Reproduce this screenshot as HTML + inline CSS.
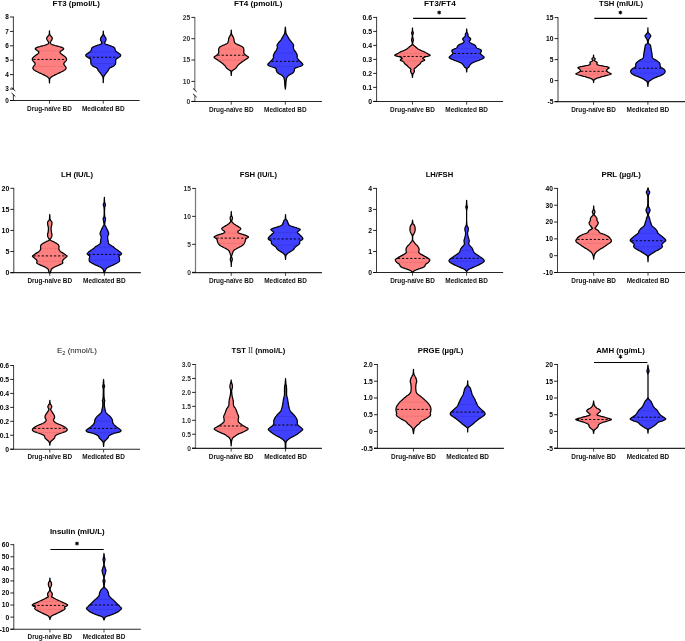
<!DOCTYPE html>
<html><head><meta charset="utf-8"><style>html,body{margin:0;padding:0;background:#fff;}svg{display:block;will-change:transform}text{font-family:"Liberation Sans",sans-serif}</style></head>
<body><svg width="685" height="641" viewBox="0 0 685 641" font-family="Liberation Sans, sans-serif"><line x1="13.4" y1="16.55" x2="13.4" y2="89.2" stroke="#333" stroke-width="0.95"/>
<line x1="13.4" y1="94.7" x2="13.4" y2="100.5" stroke="#333" stroke-width="0.95"/>
<line x1="11.5" y1="87.45" x2="15.3" y2="90.95" stroke="#000" stroke-width="0.9"/>
<line x1="11.5" y1="92.95" x2="15.3" y2="96.45" stroke="#000" stroke-width="0.9"/>
<line x1="10" y1="100.5" x2="139.6" y2="100.5" stroke="#262626" stroke-width="1.1"/>
<line x1="10" y1="17" x2="13.4" y2="17" stroke="#000" stroke-width="0.85"/>
<text x="8.9" y="19.27" font-size="6.4" font-weight="bold" text-anchor="end" fill="#000">8</text>
<line x1="10" y1="31.4" x2="13.4" y2="31.4" stroke="#000" stroke-width="0.85"/>
<text x="8.9" y="33.67" font-size="6.4" font-weight="bold" text-anchor="end" fill="#000">7</text>
<line x1="10" y1="45.8" x2="13.4" y2="45.8" stroke="#000" stroke-width="0.85"/>
<text x="8.9" y="48.07" font-size="6.4" font-weight="bold" text-anchor="end" fill="#000">6</text>
<line x1="10" y1="60.2" x2="13.4" y2="60.2" stroke="#000" stroke-width="0.85"/>
<text x="8.9" y="62.47" font-size="6.4" font-weight="bold" text-anchor="end" fill="#000">5</text>
<line x1="10" y1="74.6" x2="13.4" y2="74.6" stroke="#000" stroke-width="0.85"/>
<text x="8.9" y="76.87" font-size="6.4" font-weight="bold" text-anchor="end" fill="#000">4</text>
<line x1="10" y1="89" x2="13.4" y2="89" stroke="#000" stroke-width="0.85"/>
<text x="8.9" y="91.27" font-size="6.4" font-weight="bold" text-anchor="end" fill="#000">3</text>
<line x1="10" y1="100.5" x2="13.4" y2="100.5" stroke="#000" stroke-width="0.85"/>
<text x="8.9" y="102.77" font-size="6.4" font-weight="bold" text-anchor="end" fill="#000">0</text>
<line x1="49.46" y1="100.5" x2="49.46" y2="103.7" stroke="#222" stroke-width="0.85"/>
<line x1="103.26" y1="100.5" x2="103.26" y2="103.7" stroke="#222" stroke-width="0.85"/>
<text x="49.46" y="110.8" font-size="6.5" font-weight="bold" text-anchor="middle" fill="#111" textLength="44.7" lengthAdjust="spacingAndGlyphs">Drug-naïve BD</text>
<text x="103.26" y="110.8" font-size="6.5" font-weight="bold" text-anchor="middle" fill="#111" textLength="42.6" lengthAdjust="spacingAndGlyphs">Medicated BD</text>
<text x="76.3" y="6.1" font-size="7.9" font-weight="bold" text-anchor="middle" fill="#000" textLength="47.4" lengthAdjust="spacingAndGlyphs">FT3 (pmol/L)</text>
<path d="M49.5 30.8 49.5 31.4 49.5 32.3 49.6 33.2 49.7 34 49.8 34.5 50 34.8 50.2 35.1 50.5 35.5 50.8 35.9 51.1 36.2 51.5 36.6 51.8 37 52 37.3 52.1 37.7 52.2 38.1 52.3 38.5 52.2 38.8 52.1 39.2 51.9 39.6 51.8 40 51.5 40.3 51.3 40.7 51 41.1 50.8 41.5 50.6 41.8 50.4 42.1 50.3 42.4 50.3 42.8 50.3 43.1 50.5 43.4 50.8 43.7 51.2 44 51.7 44.3 52.3 44.6 53.1 44.9 54 45.2 55.1 45.5 56.4 45.8 57.7 46.1 58.9 46.5 60.1 46.8 61.2 47.2 62.2 47.6 62.9 48 63.4 48.2 63.6 48.5 63.7 48.7 63.6 49 63.5 49.2 63.2 49.5 62.9 49.8 62.4 50.1 61.9 50.5 61.2 50.9 60.5 51.3 60.1 51.7 60 52.2 60.1 52.6 60.4 53 60.7 53.4 61.3 53.9 62 54.4 62.7 54.9 63.4 55.4 64.1 55.9 64.7 56.4 65.3 56.9 65.7 57.4 66.1 57.9 66.4 58.4 66.6 59 66.6 59.4 66.5 59.9 66.3 60.3 66 60.7 65.7 61.1 65.3 61.6 64.9 62 64.4 62.5 64.1 62.9 63.9 63.3 63.9 63.7 63.8 64 63.9 64.4 64.1 64.8 64.5 65.2 64.8 65.7 65.1 66.1 65.4 66.6 65.8 67 66 67.5 66.1 67.9 66.1 68.4 65.9 68.8 65.5 69.3 65.1 69.7 64.6 70.1 63.9 70.6 63.2 71 62.4 71.4 61.6 71.8 60.8 72.2 59.9 72.7 58.9 73.1 58 73.5 57 74 56.1 74.4 55.1 74.9 54.2 75.4 53.3 75.8 52.5 76.3 51.8 76.7 51.2 77.1 50.8 77.5 50.4 77.8 50.2 78.2 49.9 78.5 49.8 78.7 49.7 78.9 49.7 79.4 49.6 80.2 49.5 81.2 49.5 82.2 49.5 82.9 49.5 82.9 49.4 82.2 49.4 81.2 49.3 80.2 49.3 79.4 49.2 78.9 49.1 78.7 49 78.5 48.8 78.2 48.5 77.8 48.1 77.5 47.7 77.1 47.2 76.7 46.5 76.3 45.6 75.8 44.7 75.4 43.8 74.9 42.8 74.4 41.9 74 40.9 73.5 40 73.1 39.1 72.7 38.2 72.2 37.3 71.8 36.5 71.4 35.7 71 35 70.6 34.3 70.1 33.8 69.7 33.4 69.3 33.1 68.8 32.9 68.4 32.8 67.9 32.9 67.5 33.2 67 33.5 66.6 33.8 66.1 34.1 65.7 34.5 65.2 34.8 64.8 35 64.4 35.1 64 35.1 63.7 35 63.3 34.8 62.9 34.5 62.5 34 62 33.6 61.6 33.2 61.1 32.9 60.7 32.6 60.3 32.4 59.9 32.3 59.4 32.4 59 32.5 58.4 32.8 57.9 33.2 57.4 33.7 56.9 34.2 56.4 34.9 55.9 35.5 55.4 36.2 54.9 36.9 54.4 37.6 53.9 38.2 53.4 38.5 53 38.8 52.6 38.9 52.2 38.8 51.7 38.4 51.3 37.7 50.9 37 50.5 36.5 50.1 36.1 49.8 35.7 49.5 35.4 49.2 35.3 49 35.3 48.7 35.3 48.5 35.5 48.2 36 48 36.7 47.6 37.7 47.2 38.8 46.8 40 46.5 41.2 46.1 42.5 45.8 43.9 45.5 45 45.2 45.9 44.9 46.6 44.6 47.2 44.3 47.8 44 48.2 43.7 48.4 43.4 48.6 43.1 48.7 42.8 48.6 42.4 48.5 42.1 48.4 41.8 48.2 41.5 47.9 41.1 47.7 40.7 47.4 40.3 47.2 40 47 39.6 46.8 39.2 46.7 38.8 46.7 38.5 46.7 38.1 46.8 37.7 47 37.3 47.2 37 47.4 36.6 47.8 36.2 48.2 35.9 48.5 35.5 48.7 35.1 48.9 34.8 49.1 34.5 49.3 34 49.4 33.2 49.4 32.3 49.4 31.4 49.5 30.8Z" fill="#FF8080" stroke="#000" stroke-width="1.25" stroke-linejoin="round"/>
<line x1="38.45" y1="50.75" x2="60.47" y2="50.75" stroke="#DA6868" stroke-width="0.6" stroke-dasharray="3 0.8"/>
<line x1="34.18" y1="66.42" x2="64.74" y2="66.42" stroke="#DA6868" stroke-width="0.6" stroke-dasharray="3 0.8"/>
<line x1="33.19" y1="59.43" x2="65.72" y2="59.43" stroke="#000" stroke-width="0.95" stroke-dasharray="2.3 1.8"/>
<path d="M103.3 31.2 103.3 31.7 103.3 32.5 103.4 33.3 103.5 34 103.6 34.5 103.9 34.9 104.1 35.4 104.4 35.8 104.6 36.2 104.9 36.6 105.2 37.1 105.5 37.5 105.7 37.9 105.9 38.3 106 38.7 106.1 39.2 106 39.6 105.9 40.1 105.7 40.5 105.6 41 105.3 41.4 105 41.9 104.8 42.4 104.7 42.8 104.7 43.1 104.8 43.4 105.1 43.7 105.5 44 105.9 44.2 106.5 44.5 107.2 44.7 108 45 108.8 45.2 109.7 45.5 110.6 45.8 111.4 46.2 112.2 46.5 113 46.8 113.6 47.1 114.1 47.5 114.5 47.7 114.7 48 114.8 48.2 114.9 48.5 115 48.8 115 49.1 115.1 49.4 115.1 49.7 115.3 50.1 115.4 50.4 115.6 50.8 115.9 51.1 116.3 51.5 116.9 51.9 117.4 52.4 117.9 52.7 118.5 53.1 119 53.5 119.5 53.8 119.9 54.1 120.3 54.5 120.5 54.8 120.7 55.1 120.7 55.4 120.6 55.8 120.3 56.2 119.9 56.6 119.4 56.9 118.9 57.3 118.2 57.7 117.5 58.1 116.9 58.4 116.5 58.8 116.2 59.1 115.9 59.5 115.7 59.9 115.7 60.4 115.7 60.9 115.7 61.4 115.7 61.9 115.7 62.4 115.7 63 115.6 63.5 115.5 63.9 115.3 64.3 115.1 64.6 114.8 64.9 114.5 65.2 114.3 65.5 114 65.8 113.7 66 113.4 66.2 113.1 66.4 112.8 66.6 112.4 66.7 112 66.9 111.6 67.1 111.1 67.3 110.6 67.5 110.2 67.7 109.9 67.9 109.7 68 109.5 68.2 109.2 68.5 109 68.9 108.9 69.3 108.6 69.8 108.3 70.3 107.9 70.9 107.4 71.6 106.9 72.2 106.4 72.9 105.9 73.5 105.4 74.2 104.9 74.8 104.6 75.4 104.2 75.9 104 76.3 103.7 76.8 103.6 77.5 103.4 78.7 103.3 80.2 103.3 81.6 103.3 82.6 103.3 82.6 103.2 81.6 103.2 80.2 103.1 78.7 103 77.5 102.8 76.8 102.6 76.3 102.3 75.9 102 75.4 101.6 74.8 101.1 74.2 100.6 73.5 100.2 72.9 99.7 72.2 99.1 71.6 98.6 70.9 98.2 70.3 97.9 69.8 97.7 69.3 97.5 68.9 97.3 68.5 97 68.2 96.8 68 96.6 67.9 96.3 67.7 95.9 67.5 95.4 67.3 94.9 67.1 94.5 66.9 94.1 66.7 93.7 66.6 93.4 66.4 93.1 66.2 92.8 66 92.5 65.8 92.2 65.5 92 65.2 91.7 64.9 91.4 64.6 91.2 64.3 91 63.9 90.9 63.5 90.8 63 90.8 62.4 90.8 61.9 90.8 61.4 90.8 60.9 90.9 60.4 90.8 59.9 90.6 59.5 90.3 59.1 90 58.8 89.6 58.4 89 58.1 88.3 57.7 87.7 57.3 87.1 56.9 86.6 56.6 86.2 56.2 85.9 55.8 85.8 55.4 85.8 55.1 86 54.8 86.3 54.5 86.6 54.1 87 53.8 87.5 53.5 88.1 53.1 88.6 52.7 89.1 52.4 89.7 51.9 90.2 51.5 90.6 51.1 90.9 50.8 91.1 50.4 91.3 50.1 91.4 49.7 91.5 49.4 91.5 49.1 91.5 48.8 91.6 48.5 91.7 48.2 91.8 48 92 47.7 92.4 47.5 92.9 47.1 93.6 46.8 94.3 46.5 95.1 46.2 95.9 45.8 96.8 45.5 97.7 45.2 98.6 45 99.3 44.7 100 44.5 100.6 44.2 101.1 44 101.4 43.7 101.7 43.4 101.8 43.1 101.9 42.8 101.7 42.4 101.5 41.9 101.2 41.4 101 41 100.8 40.5 100.6 40.1 100.5 39.6 100.5 39.2 100.5 38.7 100.7 38.3 100.9 37.9 101.1 37.5 101.3 37.1 101.6 36.6 101.9 36.2 102.2 35.8 102.4 35.4 102.7 34.9 102.9 34.5 103.1 34 103.2 33.3 103.2 32.5 103.2 31.7 103.3 31.2Z" fill="#4040FF" stroke="#000" stroke-width="1.25" stroke-linejoin="round"/>
<line x1="89.82" y1="52.24" x2="116.7" y2="52.24" stroke="#3030CC" stroke-width="0.6" stroke-dasharray="3 0.8"/>
<line x1="91.57" y1="63.52" x2="114.95" y2="63.52" stroke="#3030CC" stroke-width="0.6" stroke-dasharray="3 0.8"/>
<line x1="88.56" y1="57.23" x2="117.96" y2="57.23" stroke="#000" stroke-width="0.95" stroke-dasharray="2.3 1.8"/>
<line x1="194.8" y1="16.95" x2="194.8" y2="90.1" stroke="#7a7a7a" stroke-width="1.25"/>
<line x1="194.8" y1="95.5" x2="194.8" y2="101.5" stroke="#7a7a7a" stroke-width="1.25"/>
<line x1="192.9" y1="88.35" x2="196.7" y2="91.85" stroke="#000" stroke-width="0.9"/>
<line x1="192.9" y1="93.75" x2="196.7" y2="97.25" stroke="#000" stroke-width="0.9"/>
<line x1="191.4" y1="101.5" x2="321.9" y2="101.5" stroke="#262626" stroke-width="1.1"/>
<line x1="191.4" y1="17.4" x2="194.8" y2="17.4" stroke="#000" stroke-width="0.85"/>
<text x="190.3" y="19.78" font-size="6.7" font-weight="bold" text-anchor="end" fill="#333">25</text>
<line x1="191.4" y1="38.7" x2="194.8" y2="38.7" stroke="#000" stroke-width="0.85"/>
<text x="190.3" y="41.08" font-size="6.7" font-weight="bold" text-anchor="end" fill="#333">20</text>
<line x1="191.4" y1="60" x2="194.8" y2="60" stroke="#000" stroke-width="0.85"/>
<text x="190.3" y="62.38" font-size="6.7" font-weight="bold" text-anchor="end" fill="#333">15</text>
<line x1="191.4" y1="81.4" x2="194.8" y2="81.4" stroke="#000" stroke-width="0.85"/>
<text x="190.3" y="83.78" font-size="6.7" font-weight="bold" text-anchor="end" fill="#333">10</text>
<line x1="191.4" y1="101.4" x2="194.8" y2="101.4" stroke="#000" stroke-width="0.85"/>
<text x="190.3" y="103.78" font-size="6.7" font-weight="bold" text-anchor="end" fill="#333">0</text>
<line x1="231.26" y1="101.5" x2="231.26" y2="104.7" stroke="#222" stroke-width="0.85"/>
<line x1="285.34" y1="101.5" x2="285.34" y2="104.7" stroke="#222" stroke-width="0.85"/>
<text x="231.26" y="112.2" font-size="6.5" font-weight="bold" text-anchor="middle" fill="#111" textLength="44.7" lengthAdjust="spacingAndGlyphs">Drug-naïve BD</text>
<text x="285.34" y="112.2" font-size="6.5" font-weight="bold" text-anchor="middle" fill="#111" textLength="42.6" lengthAdjust="spacingAndGlyphs">Medicated BD</text>
<text x="258.2" y="6.4" font-size="7.9" font-weight="bold" text-anchor="middle" fill="#000" textLength="48.4" lengthAdjust="spacingAndGlyphs">FT4 (pmol/L)</text>
<path d="M231.3 30.2 231.3 30.8 231.3 31.7 231.4 32.7 231.5 33.5 231.6 34 231.7 34.3 231.8 34.6 232 35 232.2 35.3 232.4 35.7 232.7 36.1 233 36.5 233.2 36.9 233.4 37.4 233.6 37.9 233.8 38.5 233.9 39.1 234 39.7 234 40.4 234.2 41 234.3 41.5 234.4 42 234.6 42.5 235 43 235.4 43.4 236.1 43.8 236.7 44.1 237.4 44.5 238.2 44.8 239 45.1 239.7 45.4 240.4 45.8 241.1 46.1 241.7 46.4 242.3 46.8 242.7 47.1 243.1 47.5 243.4 47.9 243.6 48.3 243.7 48.7 243.8 49.2 243.9 49.6 243.9 50 243.9 50.4 243.9 50.9 243.8 51.4 243.7 51.9 243.7 52.4 243.9 52.9 244.2 53.5 244.5 54 244.9 54.4 245.4 54.9 245.9 55.2 246.4 55.6 246.9 55.9 247.4 56.3 247.9 56.5 248.2 56.8 248.4 57.1 248.4 57.4 248.2 57.8 247.8 58.1 247.4 58.4 246.9 58.8 246.3 59.1 245.6 59.5 244.9 59.9 244.2 60.4 243.4 60.9 242.7 61.4 241.9 61.9 241.3 62.4 240.6 62.9 240 63.4 239.4 63.9 238.9 64.4 238.4 64.9 237.9 65.4 237.4 65.9 237.1 66.3 236.9 66.7 236.7 67 236.4 67.4 236.1 67.8 235.8 68.2 235.4 68.5 235 68.9 234.4 69.3 233.8 69.7 233.2 70.1 232.8 70.4 232.4 70.6 232.1 70.7 231.9 71 231.7 71.4 231.5 72.3 231.4 73.5 231.3 74.6 231.3 75.4 231.3 75.4 231.2 74.6 231.1 73.5 231 72.3 230.9 71.4 230.7 71 230.4 70.7 230.1 70.6 229.8 70.4 229.3 70.1 228.7 69.7 228.1 69.3 227.6 68.9 227.1 68.5 226.7 68.2 226.4 67.8 226.1 67.4 225.8 67 225.6 66.7 225.4 66.3 225.1 65.9 224.7 65.4 224.2 64.9 223.6 64.4 223.1 63.9 222.5 63.4 221.9 62.9 221.3 62.4 220.6 61.9 219.9 61.4 219.1 60.9 218.3 60.4 217.6 59.9 216.9 59.5 216.2 59.1 215.6 58.8 215.1 58.4 214.7 58.1 214.3 57.8 214.1 57.4 214.1 57.1 214.3 56.8 214.7 56.5 215.1 56.3 215.6 55.9 216.1 55.6 216.6 55.2 217.1 54.9 217.6 54.4 218 54 218.3 53.5 218.6 52.9 218.8 52.4 218.8 51.9 218.7 51.4 218.6 50.9 218.6 50.4 218.6 50 218.6 49.6 218.7 49.2 218.8 48.7 218.9 48.3 219.2 47.9 219.4 47.5 219.8 47.1 220.2 46.8 220.8 46.4 221.4 46.1 222.1 45.8 222.8 45.4 223.6 45.1 224.3 44.8 225.1 44.5 225.8 44.1 226.5 43.8 227.1 43.4 227.6 43 227.9 42.5 228.1 42 228.2 41.5 228.4 41 228.5 40.4 228.6 39.7 228.6 39.1 228.8 38.5 228.9 37.9 229.1 37.4 229.3 36.9 229.6 36.5 229.8 36.1 230.1 35.7 230.3 35.3 230.6 35 230.7 34.6 230.9 34.3 231 34 231.1 33.5 231.1 32.7 231.2 31.7 231.2 30.8 231.3 30.2Z" fill="#FF8080" stroke="#000" stroke-width="1.25" stroke-linejoin="round"/>
<line x1="219.37" y1="49.15" x2="243.15" y2="49.15" stroke="#DA6868" stroke-width="0.6" stroke-dasharray="3 0.8"/>
<line x1="218.29" y1="60.12" x2="244.23" y2="60.12" stroke="#DA6868" stroke-width="0.6" stroke-dasharray="3 0.8"/>
<line x1="217.51" y1="55.23" x2="245.01" y2="55.23" stroke="#000" stroke-width="0.95" stroke-dasharray="2.3 1.8"/>
<path d="M285.3 27.2 285.4 27.9 285.5 28.9 285.6 30 285.7 31 285.8 31.7 285.9 32.4 286 32.9 286.1 33.5 286.3 33.9 286.4 34.3 286.6 34.7 286.8 35 287 35.3 287.2 35.6 287.4 35.9 287.6 36.4 288 37 288.4 37.7 288.9 38.5 289.3 39.3 289.9 40 290.5 40.8 291.1 41.5 291.6 42.2 292.1 42.9 292.6 43.4 293 44 293.3 44.5 293.5 44.9 293.6 45.2 293.6 45.5 293.7 45.8 293.6 46.1 293.5 46.4 293.3 46.7 293.3 47.2 293.4 47.7 293.5 48.4 293.8 49.1 294 49.8 294.4 50.4 294.9 51 295.3 51.5 295.7 52.1 296.1 52.7 296.4 53.3 296.7 53.9 296.9 54.4 297.1 54.8 297.2 55.2 297.3 55.5 297.4 55.8 297.3 56.1 297.3 56.4 297.2 56.7 297.1 56.9 297.1 57.2 297.1 57.5 297.2 57.8 297.4 58.2 297.7 58.7 298.3 59.4 298.9 60.1 299.4 60.8 300 61.3 300.5 61.8 301 62.2 301.5 62.7 302 63.2 302.5 63.7 302.8 64.2 302.9 64.7 302.5 65.2 301.9 65.6 301.2 66 300.3 66.4 299.4 66.7 298.3 67 297.2 67.3 296.3 67.6 295.7 67.9 295.2 68.2 294.8 68.5 294.6 68.9 294.4 69.2 294.4 69.7 294.4 70.1 294.3 70.5 294.2 71 294 71.5 293.7 71.9 293.4 72.3 293.1 72.7 292.7 73 292.2 73.4 291.7 73.7 291.1 74 290.5 74.4 289.8 74.7 289.2 75.1 288.6 75.6 288 76.1 287.5 76.6 287.1 77.1 286.9 77.5 286.7 77.9 286.6 78.4 286.5 79 286.3 79.6 286.2 80.3 286.1 81.1 286 82 285.9 83 285.9 84 285.8 85.1 285.7 86 285.6 86.9 285.5 87.8 285.4 88.6 285.3 89.1 285.3 89.1 285.3 88.6 285.2 87.8 285 86.9 284.9 86 284.9 85.1 284.8 84 284.7 83 284.7 82 284.6 81.1 284.5 80.3 284.3 79.6 284.2 79 284.1 78.4 284 77.9 283.8 77.5 283.5 77.1 283.1 76.6 282.6 76.1 282.1 75.6 281.5 75.1 280.9 74.7 280.2 74.4 279.5 74 278.9 73.7 278.4 73.4 278 73 277.6 72.7 277.2 72.3 277 71.9 276.7 71.5 276.5 71 276.3 70.5 276.3 70.1 276.3 69.7 276.3 69.2 276.1 68.9 275.8 68.5 275.5 68.2 275 67.9 274.3 67.6 273.4 67.3 272.4 67 271.3 66.7 270.3 66.4 269.5 66 268.7 65.6 268.1 65.2 267.8 64.7 267.9 64.2 268.2 63.7 268.7 63.2 269.2 62.7 269.6 62.2 270.2 61.8 270.7 61.3 271.2 60.8 271.8 60.1 272.4 59.4 272.9 58.7 273.3 58.2 273.5 57.8 273.6 57.5 273.6 57.2 273.5 56.9 273.5 56.7 273.4 56.4 273.3 56.1 273.3 55.8 273.4 55.5 273.5 55.2 273.6 54.8 273.8 54.4 274 53.9 274.3 53.3 274.6 52.7 274.9 52.1 275.3 51.5 275.8 51 276.3 50.4 276.6 49.8 276.9 49.1 277.1 48.4 277.3 47.7 277.4 47.2 277.3 46.7 277.2 46.4 277.1 46.1 277 45.8 277 45.5 277.1 45.2 277.2 44.9 277.4 44.5 277.7 44 278.1 43.4 278.5 42.9 279 42.2 279.6 41.5 280.2 40.8 280.8 40 281.3 39.3 281.8 38.5 282.3 37.7 282.7 37 283 36.4 283.3 35.9 283.5 35.6 283.7 35.3 283.9 35 284.1 34.7 284.2 34.3 284.4 33.9 284.6 33.5 284.7 32.9 284.8 32.4 284.9 31.7 285 31 285.1 30 285.2 28.9 285.3 27.9 285.3 27.2Z" fill="#4040FF" stroke="#000" stroke-width="1.25" stroke-linejoin="round"/>
<line x1="274.97" y1="53.24" x2="295.7" y2="53.24" stroke="#3030CC" stroke-width="0.6" stroke-dasharray="3 0.8"/>
<line x1="271.04" y1="66.38" x2="299.64" y2="66.38" stroke="#3030CC" stroke-width="0.6" stroke-dasharray="3 0.8"/>
<line x1="271.6" y1="61.33" x2="299.07" y2="61.33" stroke="#000" stroke-width="0.95" stroke-dasharray="2.3 1.8"/>
<line x1="376.6" y1="16.95" x2="376.6" y2="101.5" stroke="#333" stroke-width="0.95"/>
<line x1="373.2" y1="101.5" x2="503.1" y2="101.5" stroke="#262626" stroke-width="1.1"/>
<line x1="373.2" y1="17.4" x2="376.6" y2="17.4" stroke="#000" stroke-width="0.85"/>
<text x="372.1" y="19.85" font-size="6.9" font-weight="bold" text-anchor="end" fill="#000">0.6</text>
<line x1="373.2" y1="31.4" x2="376.6" y2="31.4" stroke="#000" stroke-width="0.85"/>
<text x="372.1" y="33.85" font-size="6.9" font-weight="bold" text-anchor="end" fill="#000">0.5</text>
<line x1="373.2" y1="45.4" x2="376.6" y2="45.4" stroke="#000" stroke-width="0.85"/>
<text x="372.1" y="47.85" font-size="6.9" font-weight="bold" text-anchor="end" fill="#000">0.4</text>
<line x1="373.2" y1="59.4" x2="376.6" y2="59.4" stroke="#000" stroke-width="0.85"/>
<text x="372.1" y="61.85" font-size="6.9" font-weight="bold" text-anchor="end" fill="#000">0.3</text>
<line x1="373.2" y1="73.4" x2="376.6" y2="73.4" stroke="#000" stroke-width="0.85"/>
<text x="372.1" y="75.85" font-size="6.9" font-weight="bold" text-anchor="end" fill="#000">0.2</text>
<line x1="373.2" y1="87.4" x2="376.6" y2="87.4" stroke="#000" stroke-width="0.85"/>
<text x="372.1" y="89.85" font-size="6.9" font-weight="bold" text-anchor="end" fill="#000">0.1</text>
<line x1="373.2" y1="101.4" x2="376.6" y2="101.4" stroke="#000" stroke-width="0.85"/>
<text x="372.1" y="103.85" font-size="6.9" font-weight="bold" text-anchor="end" fill="#000">0</text>
<line x1="412.46" y1="101.5" x2="412.46" y2="104.7" stroke="#222" stroke-width="0.85"/>
<line x1="466.66" y1="101.5" x2="466.66" y2="104.7" stroke="#222" stroke-width="0.85"/>
<text x="412.46" y="112.2" font-size="6.5" font-weight="bold" text-anchor="middle" fill="#111" textLength="44.7" lengthAdjust="spacingAndGlyphs">Drug-naïve BD</text>
<text x="466.66" y="112.2" font-size="6.5" font-weight="bold" text-anchor="middle" fill="#111" textLength="42.6" lengthAdjust="spacingAndGlyphs">Medicated BD</text>
<text x="439.9" y="6.2" font-size="7.9" font-weight="bold" text-anchor="middle" fill="#000" textLength="31.8" lengthAdjust="spacingAndGlyphs">FT3/FT4</text>
<line x1="413.1" y1="18.35" x2="465.7" y2="18.35" stroke="#000" stroke-width="1.1"/>
<path d="M439.2 10.95L439.2 14.05M440.54 11.72L437.86 13.28M440.54 13.28L437.86 11.72" stroke="#000" stroke-width="1.05" stroke-linecap="round"/>
<path d="M412.5 28 412.5 28.7 412.5 29.7 412.6 30.7 412.7 31.5 412.8 31.9 412.9 32.1 413.1 32.3 413.2 32.5 413.2 32.7 413.3 33 413.3 33.2 413.3 33.5 413.2 33.8 413 34.1 412.9 34.4 412.8 34.8 412.7 35.3 412.6 35.8 412.6 36.4 412.7 37 412.7 37.5 412.9 37.9 413 38.4 413.2 38.8 413.2 39.1 413.3 39.5 413.4 39.8 413.4 40.2 413.3 40.5 413.2 40.8 413.1 41.1 413 41.5 412.9 41.9 412.8 42.5 412.7 43 412.7 43.5 412.7 43.8 412.7 44.1 412.8 44.4 413 44.7 413.2 45 413.6 45.3 414 45.6 414.4 45.9 414.8 46.3 415.2 46.6 415.7 47 416.2 47.4 416.6 47.8 417 48.1 417.4 48.5 418 48.9 418.6 49.3 419.3 49.6 420.1 50 420.9 50.4 421.7 50.8 422.7 51.2 423.6 51.5 424.5 51.9 425.1 52.3 425.7 52.6 426.2 53 426.8 53.3 427.4 53.6 428 53.9 428.7 54.2 429.2 54.5 429.6 54.7 429.9 55 430.1 55.2 430.1 55.4 429.6 55.6 428.9 55.9 428.1 56.1 427.4 56.3 426.6 56.5 425.9 56.7 425.1 57 424.5 57.2 423.9 57.5 423.3 57.8 422.9 58.1 422.7 58.4 422.8 58.6 423.3 58.8 423.8 59.1 424.2 59.3 424.4 59.6 424.5 59.9 424.6 60.2 424.5 60.5 424 60.7 423.4 60.9 422.6 61.1 422.1 61.3 421.7 61.6 421.3 61.9 421.1 62.2 420.9 62.5 420.7 62.8 420.6 63.1 420.5 63.4 420.3 63.7 419.8 64.1 419.2 64.6 418.5 65 418 65.5 417.5 66 417 66.4 416.6 66.9 416.2 67.3 415.7 67.6 415.3 67.9 415 68.2 414.7 68.5 414.4 68.8 414.2 69 414.1 69.3 414.1 69.6 414.1 70 414.2 70.5 414.3 70.9 414.4 71.4 414.2 71.9 414 72.3 413.7 72.8 413.5 73.2 413.3 73.5 413.1 73.7 413 74 412.9 74.4 412.7 75.1 412.6 76 412.5 76.8 412.5 77.4 412.5 77.4 412.4 76.8 412.3 76 412.2 75.1 412.1 74.4 411.9 74 411.8 73.7 411.6 73.5 411.5 73.2 411.2 72.8 411 72.3 410.7 71.9 410.6 71.4 410.6 70.9 410.7 70.5 410.8 70 410.9 69.6 410.8 69.3 410.7 69 410.5 68.8 410.3 68.5 410 68.2 409.6 67.9 409.2 67.6 408.8 67.3 408.3 66.9 407.9 66.4 407.5 66 407 65.5 406.4 65 405.7 64.6 405.1 64.1 404.7 63.7 404.4 63.4 404.3 63.1 404.2 62.8 404.1 62.5 403.8 62.2 403.6 61.9 403.3 61.6 402.9 61.3 402.3 61.1 401.6 60.9 400.9 60.7 400.5 60.5 400.3 60.2 400.4 59.9 400.5 59.6 400.8 59.3 401.1 59.1 401.6 58.8 402.1 58.6 402.3 58.4 402.1 58.1 401.6 57.8 401.1 57.5 400.5 57.2 399.8 57 399.1 56.7 398.3 56.5 397.6 56.3 396.8 56.1 396 55.9 395.3 55.6 394.9 55.4 394.8 55.2 395 55 395.3 54.7 395.8 54.5 396.3 54.2 396.9 53.9 397.5 53.6 398.2 53.3 398.7 53 399.2 52.6 399.8 52.3 400.5 51.9 401.3 51.5 402.2 51.2 403.2 50.8 404.1 50.4 404.9 50 405.6 49.6 406.3 49.3 407 48.9 407.5 48.5 407.9 48.1 408.3 47.8 408.8 47.4 409.2 47 409.7 46.6 410.1 46.3 410.6 45.9 411 45.6 411.4 45.3 411.7 45 412 44.7 412.1 44.4 412.2 44.1 412.3 43.8 412.3 43.5 412.2 43 412.2 42.5 412.1 41.9 412 41.5 411.9 41.1 411.7 40.8 411.6 40.5 411.6 40.2 411.6 39.8 411.6 39.5 411.7 39.1 411.8 38.8 411.9 38.4 412 37.9 412.2 37.5 412.3 37 412.3 36.4 412.3 35.8 412.2 35.3 412.2 34.8 412 34.4 411.9 34.1 411.8 33.8 411.7 33.5 411.6 33.2 411.6 33 411.7 32.7 411.8 32.5 411.9 32.3 412 32.1 412.1 31.9 412.3 31.5 412.3 30.7 412.4 29.7 412.4 28.7 412.5 28Z" fill="#FF8080" stroke="#000" stroke-width="1.25" stroke-linejoin="round"/>
<line x1="398.86" y1="53.44" x2="426.06" y2="53.44" stroke="#DA6868" stroke-width="0.6" stroke-dasharray="3 0.8"/>
<line x1="402.98" y1="61.12" x2="421.94" y2="61.12" stroke="#DA6868" stroke-width="0.6" stroke-dasharray="3 0.8"/>
<line x1="399.2" y1="56.43" x2="425.72" y2="56.43" stroke="#000" stroke-width="0.95" stroke-dasharray="2.3 1.8"/>
<path d="M466.7 29 466.7 29.6 466.8 30.4 466.8 31.4 467 32.1 467.1 32.6 467.3 32.9 467.5 33.2 467.7 33.5 467.8 33.8 467.9 34 468 34.2 468.1 34.5 468.1 34.7 468 35 468 35.2 468 35.5 468 35.7 468 36 468.1 36.2 468.3 36.5 468.5 36.8 468.9 37.1 469.3 37.4 469.7 37.7 470 38 470.3 38.3 470.5 38.6 470.7 39 470.6 39.3 470.5 39.6 470.3 39.9 470.2 40.2 469.9 40.5 469.7 40.7 469.4 41 469.3 41.3 469.2 41.5 469.2 41.7 469.3 41.9 469.5 42.1 469.6 42.3 469.8 42.5 470.1 42.7 470.5 43 471 43.2 471.6 43.6 472.3 43.9 472.9 44.2 473.5 44.4 474 44.6 474.5 44.9 474.9 45.2 475.3 45.5 475.5 45.8 475.7 46.1 475.9 46.5 476.1 46.8 476.1 47.1 476.2 47.4 476.4 47.7 476.8 48 477.3 48.3 477.9 48.5 478.4 48.7 479.1 49 479.8 49.3 480.4 49.6 480.9 49.9 481.2 50.2 481.4 50.5 481.4 50.8 481.4 51.1 481.3 51.5 481.1 51.8 480.9 52.1 480.7 52.4 480.6 52.8 480.5 53.1 480.4 53.4 480.4 53.7 480.6 54 481 54.3 481.3 54.6 481.7 54.9 482.1 55.3 482.6 55.7 483.1 56.1 483.4 56.4 483.7 56.7 483.9 57 484.1 57.2 484.1 57.4 484 57.7 483.9 57.9 483.6 58.1 483.1 58.4 482.5 58.8 481.7 59.1 480.8 59.5 479.9 59.9 479 60.3 478 60.7 476.9 61 475.9 61.4 475 61.8 474.1 62.2 473.2 62.5 472.4 62.9 471.8 63.3 471.3 63.7 470.8 64 470.5 64.4 470.1 64.8 469.9 65.2 469.7 65.5 469.5 65.9 469.2 66.3 469 66.7 468.7 67.1 468.5 67.4 468.1 67.6 467.8 67.8 467.4 68 467.2 68.4 467 69.2 466.8 70.2 466.7 71.2 466.7 71.9 466.7 71.9 466.6 71.2 466.5 70.2 466.4 69.2 466.2 68.4 465.9 68 465.5 67.8 465.2 67.6 464.9 67.4 464.6 67.1 464.3 66.7 464.1 66.3 463.9 65.9 463.6 65.5 463.4 65.2 463.2 64.8 462.9 64.4 462.5 64 462 63.7 461.5 63.3 460.9 62.9 460.1 62.5 459.2 62.2 458.3 61.8 457.4 61.4 456.4 61 455.4 60.7 454.3 60.3 453.4 59.9 452.5 59.5 451.6 59.1 450.8 58.8 450.2 58.4 449.7 58.1 449.4 57.9 449.3 57.7 449.2 57.4 449.2 57.2 449.4 57 449.6 56.7 449.9 56.4 450.3 56.1 450.7 55.7 451.2 55.3 451.6 54.9 452 54.6 452.4 54.3 452.7 54 452.9 53.7 452.9 53.4 452.9 53.1 452.7 52.8 452.6 52.4 452.4 52.1 452.2 51.8 452 51.5 451.9 51.1 451.9 50.8 451.9 50.5 452.1 50.2 452.4 49.9 452.9 49.6 453.5 49.3 454.2 49 454.9 48.7 455.5 48.5 456 48.3 456.5 48 456.9 47.7 457.1 47.4 457.2 47.1 457.3 46.8 457.4 46.5 457.6 46.1 457.8 45.8 458 45.5 458.4 45.2 458.8 44.9 459.3 44.6 459.8 44.4 460.4 44.2 461 43.9 461.7 43.6 462.3 43.2 462.9 43 463.2 42.7 463.5 42.5 463.7 42.3 463.9 42.1 464 41.9 464.1 41.7 464.1 41.5 464.1 41.3 463.9 41 463.7 40.7 463.4 40.5 463.2 40.2 463 39.9 462.8 39.6 462.7 39.3 462.7 39 462.8 38.6 463 38.3 463.4 38 463.7 37.7 464 37.4 464.4 37.1 464.8 36.8 465.1 36.5 465.2 36.2 465.3 36 465.3 35.7 465.4 35.5 465.4 35.2 465.3 35 465.3 34.7 465.3 34.5 465.3 34.2 465.4 34 465.5 33.8 465.7 33.5 465.8 33.2 466 32.9 466.2 32.6 466.4 32.1 466.5 31.4 466.6 30.4 466.6 29.6 466.7 29Z" fill="#4040FF" stroke="#000" stroke-width="1.25" stroke-linejoin="round"/>
<line x1="456.15" y1="48.45" x2="477.17" y2="48.45" stroke="#3030CC" stroke-width="0.6" stroke-dasharray="3 0.8"/>
<line x1="449.93" y1="57.13" x2="483.39" y2="57.13" stroke="#3030CC" stroke-width="0.6" stroke-dasharray="3 0.8"/>
<line x1="453.83" y1="53.44" x2="479.48" y2="53.44" stroke="#000" stroke-width="0.95" stroke-dasharray="2.3 1.8"/>
<line x1="558" y1="17.15" x2="558" y2="101.6" stroke="#333" stroke-width="0.95"/>
<line x1="554.6" y1="101.6" x2="685.5" y2="101.6" stroke="#262626" stroke-width="1.1"/>
<line x1="554.6" y1="17.6" x2="558" y2="17.6" stroke="#000" stroke-width="0.85"/>
<text x="553.5" y="19.98" font-size="6.7" font-weight="bold" text-anchor="end" fill="#000">15</text>
<line x1="554.6" y1="38.6" x2="558" y2="38.6" stroke="#000" stroke-width="0.85"/>
<text x="553.5" y="40.98" font-size="6.7" font-weight="bold" text-anchor="end" fill="#000">10</text>
<line x1="554.6" y1="59.6" x2="558" y2="59.6" stroke="#000" stroke-width="0.85"/>
<text x="553.5" y="61.98" font-size="6.7" font-weight="bold" text-anchor="end" fill="#000">5</text>
<line x1="554.6" y1="80.6" x2="558" y2="80.6" stroke="#000" stroke-width="0.85"/>
<text x="553.5" y="82.98" font-size="6.7" font-weight="bold" text-anchor="end" fill="#000">0</text>
<line x1="554.6" y1="101.6" x2="558" y2="101.6" stroke="#000" stroke-width="0.85"/>
<text x="553.5" y="103.98" font-size="6.7" font-weight="bold" text-anchor="end" fill="#000">-5</text>
<line x1="593.55" y1="101.6" x2="593.55" y2="104.8" stroke="#222" stroke-width="0.85"/>
<line x1="647.9" y1="101.6" x2="647.9" y2="104.8" stroke="#222" stroke-width="0.85"/>
<text x="593.55" y="111.5" font-size="6.5" font-weight="bold" text-anchor="middle" fill="#111" textLength="44.7" lengthAdjust="spacingAndGlyphs">Drug-naïve BD</text>
<text x="647.9" y="111.5" font-size="6.5" font-weight="bold" text-anchor="middle" fill="#111" textLength="42.6" lengthAdjust="spacingAndGlyphs">Medicated BD</text>
<text x="621" y="6.2" font-size="7.9" font-weight="bold" text-anchor="middle" fill="#000" textLength="44.1" lengthAdjust="spacingAndGlyphs">TSH (mIU/L)</text>
<line x1="594.3" y1="18.35" x2="647.2" y2="18.35" stroke="#000" stroke-width="1.1"/>
<path d="M620.4 10.95L620.4 14.05M621.74 11.72L619.06 13.28M621.74 13.28L619.06 11.72" stroke="#000" stroke-width="1.05" stroke-linecap="round"/>
<path d="M593.6 55.1 593.6 55.5 593.6 56 593.7 56.6 593.8 57 593.9 57.3 594 57.5 594.2 57.7 594.3 57.9 594.5 58.1 594.8 58.3 595.1 58.5 595.2 58.8 595.2 59 595 59.2 594.9 59.4 594.7 59.6 594.6 59.9 594.4 60.1 594.3 60.3 594.3 60.5 594.5 60.7 594.8 60.9 595.1 61.2 595.5 61.4 595.9 61.6 596.3 61.8 596.7 62.1 596.9 62.3 597.1 62.4 597.2 62.6 597.2 62.8 597.2 63 597.2 63.1 597 63.3 596.9 63.5 596.8 63.7 596.8 63.9 596.9 64.2 597 64.4 597.2 64.6 597.6 64.8 598 65 598.6 65.1 599.3 65.3 600.2 65.5 601.2 65.7 602.3 65.9 603.4 66.1 604.4 66.3 605.6 66.5 606.6 66.7 607.5 66.9 608.1 67.2 608.7 67.4 609 67.6 609.2 67.8 609.1 68 608.8 68.2 608.4 68.4 608 68.7 607.7 69 607.4 69.3 607.1 69.6 606.9 69.9 606.7 70.1 606.6 70.4 606.5 70.6 606.6 70.9 606.7 71.2 607 71.4 607.4 71.6 607.7 71.9 608.2 72.2 608.7 72.5 609.3 72.8 609.8 73.1 610.3 73.3 610.7 73.5 611.1 73.6 611.2 73.8 611.1 74 610.8 74.2 610.3 74.3 609.8 74.5 609.2 74.7 608.5 75 607.7 75.2 606.9 75.4 606 75.6 605.1 75.8 604.2 76.1 603.4 76.3 602.6 76.5 601.9 76.7 601.2 76.9 600.4 77.2 599.7 77.4 598.9 77.6 598.2 77.8 597.5 78 596.9 78.2 596.4 78.5 595.9 78.7 595.5 78.9 595.1 79.1 594.8 79.3 594.5 79.6 594.3 79.8 594.1 80 594 80.2 593.8 80.4 593.7 80.7 593.7 81.1 593.6 81.6 593.6 82.1 593.6 82.4 593.6 82.4 593.5 82.1 593.5 81.6 593.5 81.1 593.4 80.7 593.3 80.4 593.1 80.2 593 80 592.8 79.8 592.6 79.6 592.3 79.3 592 79.1 591.6 78.9 591.2 78.7 590.7 78.5 590.2 78.2 589.6 78 588.9 77.8 588.2 77.6 587.4 77.4 586.7 77.2 585.9 76.9 585.2 76.7 584.5 76.5 583.7 76.3 582.9 76.1 582 75.8 581.1 75.6 580.2 75.4 579.4 75.2 578.7 75 577.9 74.7 577.3 74.5 576.8 74.3 576.3 74.2 576 74 575.9 73.8 576 73.6 576.4 73.5 576.8 73.3 577.3 73.1 577.8 72.8 578.4 72.5 578.9 72.2 579.4 71.9 579.8 71.6 580.1 71.4 580.4 71.2 580.5 70.9 580.6 70.6 580.5 70.4 580.4 70.1 580.2 69.9 580 69.6 579.7 69.3 579.4 69 579.1 68.7 578.7 68.4 578.3 68.2 578 68 577.9 67.8 578.1 67.6 578.5 67.4 579 67.2 579.7 66.9 580.5 66.7 581.6 66.5 582.7 66.3 583.7 66.1 584.8 65.9 585.9 65.7 587 65.5 587.8 65.3 588.5 65.1 589.1 65 589.5 64.8 589.9 64.6 590.1 64.4 590.2 64.2 590.3 63.9 590.3 63.7 590.2 63.5 590.1 63.3 589.9 63.1 589.9 63 589.9 62.8 589.9 62.6 590 62.4 590.2 62.3 590.5 62.1 590.8 61.8 591.3 61.6 591.6 61.4 592 61.2 592.3 60.9 592.6 60.7 592.8 60.5 592.8 60.3 592.7 60.1 592.5 59.9 592.4 59.6 592.2 59.4 592.1 59.2 591.9 59 591.9 58.8 592.1 58.5 592.3 58.3 592.6 58.1 592.8 57.9 593 57.7 593.1 57.5 593.2 57.3 593.3 57 593.4 56.6 593.5 56 593.5 55.5 593.6 55.1Z" fill="#FF8080" stroke="#000" stroke-width="1.25" stroke-linejoin="round"/>
<line x1="579.77" y1="68.57" x2="607.34" y2="68.57" stroke="#DA6868" stroke-width="0.6" stroke-dasharray="3 0.8"/>
<line x1="576.69" y1="74.06" x2="610.42" y2="74.06" stroke="#DA6868" stroke-width="0.6" stroke-dasharray="3 0.8"/>
<line x1="580.99" y1="71.31" x2="606.11" y2="71.31" stroke="#000" stroke-width="0.95" stroke-dasharray="2.3 1.8"/>
<path d="M647.9 27.8 647.9 28.6 647.9 29.8 648 31 648.1 32 648.3 32.5 648.5 32.9 648.8 33.2 649.1 33.5 649.4 33.9 649.7 34.2 650 34.6 650.3 35 650.5 35.3 650.6 35.6 650.7 35.8 650.7 36.2 650.5 36.6 650.3 37 650 37.5 649.7 38 649.4 38.4 649.1 38.9 648.8 39.3 648.6 39.8 648.5 40.2 648.4 40.6 648.3 41.1 648.3 41.5 648.2 41.8 648.2 42.2 648.2 42.5 648.2 42.8 648.2 43 648.3 43.2 648.4 43.4 648.6 43.6 648.9 43.8 649.2 44 649.6 44.2 649.9 44.5 650.1 44.7 650.2 44.9 650.4 45.1 650.5 45.5 650.6 45.9 650.7 46.5 650.8 47.1 650.9 47.8 651 48.5 651.2 49.3 651.3 50.2 651.5 51 651.6 51.8 651.8 52.6 651.9 53.3 652 54.1 652.1 55 652.2 55.9 652.3 56.8 652.5 57.5 652.8 58 653.1 58.4 653.5 58.7 653.9 59 654.4 59.3 654.9 59.6 655.5 59.8 656.1 60.2 656.9 60.8 657.8 61.5 658.7 62.2 659.4 62.8 659.8 63.3 659.9 63.7 660 64.1 660.1 64.4 660.1 64.8 660.1 65.2 660 65.5 660.1 65.9 660.2 66.3 660.4 66.7 660.7 67 661.1 67.4 661.6 67.8 662.3 68.1 663 68.5 663.6 68.9 664.1 69.4 664.5 69.9 664.8 70.4 665.1 70.9 665.2 71.3 665.1 71.7 665 72 664.9 72.4 664.6 72.8 664.4 73.2 664 73.5 663.6 73.9 663.1 74.3 662.5 74.6 661.8 75 661.1 75.4 660.2 75.8 659.1 76.1 658.1 76.5 657.1 76.9 656.1 77.3 655.2 77.6 654.4 78 653.6 78.4 652.9 78.8 652.2 79.1 651.7 79.5 651.1 79.9 650.5 80.3 650 80.6 649.5 81 649.1 81.4 648.8 81.7 648.6 82 648.4 82.4 648.3 82.9 648.2 83.7 648 84.7 648 85.7 647.9 86.4 647.9 86.4 647.8 85.7 647.7 84.7 647.6 83.7 647.5 82.9 647.4 82.4 647.2 82 647 81.7 646.7 81.4 646.3 81 645.8 80.6 645.3 80.3 644.7 79.9 644.1 79.5 643.6 79.1 642.9 78.8 642.2 78.4 641.4 78 640.6 77.6 639.6 77.3 638.7 76.9 637.7 76.5 636.7 76.1 635.6 75.8 634.7 75.4 634 75 633.3 74.6 632.7 74.3 632.2 73.9 631.8 73.5 631.4 73.2 631.2 72.8 630.9 72.4 630.8 72 630.7 71.7 630.6 71.3 630.7 70.9 631 70.4 631.3 69.9 631.7 69.4 632.2 68.9 632.8 68.5 633.5 68.1 634.2 67.8 634.7 67.4 635.1 67 635.4 66.7 635.6 66.3 635.7 65.9 635.8 65.5 635.7 65.2 635.7 64.8 635.7 64.4 635.8 64.1 635.9 63.7 636 63.3 636.4 62.8 637.1 62.2 638 61.5 638.9 60.8 639.7 60.2 640.3 59.8 640.9 59.6 641.4 59.3 641.9 59 642.3 58.7 642.7 58.4 643 58 643.3 57.5 643.5 56.8 643.6 55.9 643.7 55 643.8 54.1 643.9 53.3 644 52.6 644.2 51.8 644.3 51 644.5 50.2 644.6 49.3 644.8 48.5 644.9 47.8 645 47.1 645.1 46.5 645.2 45.9 645.3 45.5 645.4 45.1 645.5 44.9 645.7 44.7 645.9 44.5 646.2 44.2 646.6 44 646.9 43.8 647.2 43.6 647.4 43.4 647.5 43.2 647.6 43 647.6 42.8 647.6 42.5 647.6 42.2 647.5 41.8 647.5 41.5 647.5 41.1 647.4 40.6 647.3 40.2 647.2 39.8 647 39.3 646.7 38.9 646.4 38.4 646.1 38 645.8 37.5 645.5 37 645.3 36.6 645.1 36.2 645.1 35.8 645.2 35.6 645.3 35.3 645.5 35 645.8 34.6 646.1 34.2 646.4 33.9 646.7 33.5 647 33.2 647.3 32.9 647.5 32.5 647.7 32 647.8 31 647.9 29.8 647.9 28.6 647.9 27.8Z" fill="#4040FF" stroke="#000" stroke-width="1.25" stroke-linejoin="round"/>
<line x1="638.65" y1="61.43" x2="657.14" y2="61.43" stroke="#3030CC" stroke-width="0.6" stroke-dasharray="3 0.8"/>
<line x1="632.14" y1="73.2" x2="663.66" y2="73.2" stroke="#3030CC" stroke-width="0.6" stroke-dasharray="3 0.8"/>
<line x1="634.41" y1="68.21" x2="661.39" y2="68.21" stroke="#000" stroke-width="0.95" stroke-dasharray="2.3 1.8"/>
<line x1="13.8" y1="187.85" x2="13.8" y2="272.6" stroke="#333" stroke-width="0.95"/>
<line x1="10.4" y1="272.6" x2="140.8" y2="272.6" stroke="#262626" stroke-width="1.1"/>
<line x1="10.4" y1="188.3" x2="13.8" y2="188.3" stroke="#000" stroke-width="0.85"/>
<text x="9.3" y="190.79" font-size="7" font-weight="bold" text-anchor="end" fill="#000">20</text>
<line x1="10.4" y1="209.38" x2="13.8" y2="209.38" stroke="#000" stroke-width="0.85"/>
<text x="9.3" y="211.86" font-size="7" font-weight="bold" text-anchor="end" fill="#000">15</text>
<line x1="10.4" y1="230.45" x2="13.8" y2="230.45" stroke="#000" stroke-width="0.85"/>
<text x="9.3" y="232.94" font-size="7" font-weight="bold" text-anchor="end" fill="#000">10</text>
<line x1="10.4" y1="251.53" x2="13.8" y2="251.53" stroke="#000" stroke-width="0.85"/>
<text x="9.3" y="254.01" font-size="7" font-weight="bold" text-anchor="end" fill="#000">5</text>
<line x1="10.4" y1="272.6" x2="13.8" y2="272.6" stroke="#000" stroke-width="0.85"/>
<text x="9.3" y="275.09" font-size="7" font-weight="bold" text-anchor="end" fill="#000">0</text>
<line x1="49.76" y1="272.6" x2="49.76" y2="275.8" stroke="#222" stroke-width="0.85"/>
<line x1="104.36" y1="272.6" x2="104.36" y2="275.8" stroke="#222" stroke-width="0.85"/>
<text x="49.76" y="282.7" font-size="6.5" font-weight="bold" text-anchor="middle" fill="#111" textLength="44.7" lengthAdjust="spacingAndGlyphs">Drug-naïve BD</text>
<text x="104.36" y="282.7" font-size="6.5" font-weight="bold" text-anchor="middle" fill="#111" textLength="42.6" lengthAdjust="spacingAndGlyphs">Medicated BD</text>
<text x="77.05" y="177.3" font-size="7.9" font-weight="bold" text-anchor="middle" fill="#000" textLength="32.3" lengthAdjust="spacingAndGlyphs">LH (IU/L)</text>
<path d="M49.8 214.5 49.8 215.5 49.9 216.9 50 218.4 50.2 219.5 50.4 220.1 50.6 220.4 50.9 220.7 51.2 221 51.4 221.3 51.6 221.7 51.8 222 52 222.5 52 223 51.9 223.7 51.9 224.3 51.8 225 51.6 225.6 51.4 226.2 51.3 226.8 51.2 227.5 51.1 228.1 51.1 228.7 51.1 229.3 51.2 230 51.2 230.6 51.3 231.2 51.4 231.9 51.5 232.5 51.6 233 51.7 233.5 51.9 234 52 234.5 52 235 51.9 235.4 51.9 235.9 51.8 236.4 51.6 237 51.3 237.5 51 238 50.8 238.4 50.5 238.9 50.2 239.2 50.1 239.6 50.2 239.9 50.6 240.3 51.3 240.7 52.2 241.1 53 241.4 53.7 241.8 54.4 242.2 55.1 242.6 55.7 242.9 56.4 243.3 57 243.7 57.5 244.1 57.9 244.4 58.3 244.8 58.6 245.2 58.8 245.6 58.9 245.9 59 246.3 59 246.6 59 247 58.9 247.4 58.9 247.9 58.8 248.4 58.8 248.9 58.9 249.4 59.2 249.9 59.5 250.4 59.9 250.9 60.4 251.4 61.1 251.9 61.8 252.4 62.6 252.9 63.4 253.4 64.2 253.9 65.1 254.5 65.8 255 66.4 255.4 66.8 255.7 67 256 67 256.2 67 256.4 66.9 256.6 66.7 256.8 66.4 257 66 257.3 65.4 257.8 64.7 258.4 63.9 259 63.3 259.6 63 260.1 62.7 260.5 62.5 261 62.4 261.4 62.5 261.8 62.7 262.2 62.9 262.7 62.7 263.1 62.2 263.5 61.4 264 60.5 264.4 59.5 264.9 58.6 265.3 57.5 265.7 56.4 266.2 55.4 266.6 54.5 267 53.7 267.5 52.9 267.9 52.3 268.4 51.8 268.8 51.5 269.2 51.3 269.6 51.1 270.1 50.9 270.7 50.7 271.4 50.6 272.1 50.6 272.6 49 272.6 48.9 272.1 48.8 271.4 48.6 270.7 48.5 270.1 48.3 269.6 48 269.2 47.7 268.8 47.3 268.4 46.6 267.9 45.8 267.5 45 267 44.1 266.6 43.1 266.2 42 265.7 41 265.3 40 264.9 39 264.4 38.1 264 37.3 263.5 36.8 263.1 36.6 262.7 36.8 262.2 37 261.8 37.1 261.4 37 261 36.8 260.5 36.6 260.1 36.2 259.6 35.6 259 34.8 258.4 34.1 257.8 33.5 257.3 33.1 257 32.8 256.8 32.6 256.6 32.5 256.4 32.5 256.2 32.5 256 32.7 255.7 33.1 255.4 33.7 255 34.4 254.5 35.3 253.9 36.1 253.4 36.9 252.9 37.7 252.4 38.4 251.9 39.1 251.4 39.6 250.9 40 250.4 40.3 249.9 40.6 249.4 40.7 248.9 40.7 248.4 40.6 247.9 40.6 247.4 40.6 247 40.5 246.6 40.5 246.3 40.6 245.9 40.7 245.6 40.9 245.2 41.2 244.8 41.6 244.4 42 244.1 42.6 243.7 43.2 243.3 43.8 242.9 44.4 242.6 45.1 242.2 45.9 241.8 46.6 241.4 47.3 241.1 48.2 240.7 48.9 240.3 49.4 239.9 49.5 239.6 49.3 239.2 49 238.9 48.8 238.4 48.5 238 48.2 237.5 48 237 47.8 236.4 47.6 235.9 47.6 235.4 47.5 235 47.6 234.5 47.6 234 47.8 233.5 47.9 233 48.1 232.5 48.2 231.9 48.2 231.2 48.3 230.6 48.4 230 48.4 229.3 48.4 228.7 48.4 228.1 48.4 227.5 48.2 226.8 48.1 226.2 47.9 225.6 47.8 225 47.7 224.3 47.6 223.7 47.5 223 47.6 222.5 47.7 222 47.9 221.7 48.1 221.3 48.4 221 48.6 220.7 48.9 220.4 49.1 220.1 49.4 219.5 49.5 218.4 49.6 216.9 49.7 215.5 49.8 214.5Z" fill="#FF8080" stroke="#000" stroke-width="1.25" stroke-linejoin="round"/>
<line x1="41.37" y1="248.42" x2="58.15" y2="248.42" stroke="#DA6868" stroke-width="0.6" stroke-dasharray="3 0.8"/>
<line x1="37.78" y1="261.4" x2="61.73" y2="261.4" stroke="#DA6868" stroke-width="0.6" stroke-dasharray="3 0.8"/>
<line x1="33.44" y1="255.91" x2="66.07" y2="255.91" stroke="#000" stroke-width="0.95" stroke-dasharray="2.3 1.8"/>
<path d="M104.4 197.4 104.4 198.3 104.4 199.6 104.5 201.1 104.6 202.2 104.8 203 105.1 203.6 105.3 204.2 105.4 204.8 105.3 205.4 105.1 205.9 104.9 206.5 104.7 207.3 104.6 208.5 104.6 209.8 104.5 211.2 104.5 212.4 104.5 213.5 104.6 214.5 104.6 215.4 104.7 216.3 104.9 217 105.2 217.6 105.4 218.2 105.5 218.8 105.5 219.6 105.3 220.4 105.1 221.3 105 222 104.9 222.7 104.8 223.4 104.7 224 104.7 224.6 104.9 225.1 105.2 225.6 105.5 226 105.8 226.5 106 227 106.2 227.5 106.4 227.9 106.7 228.4 106.9 228.9 107.1 229.4 107.3 229.9 107.6 230.3 107.8 230.8 108 231.3 108.2 231.8 108.3 232.3 108.5 232.7 108.6 233.2 108.6 233.7 108.6 234.2 108.4 234.6 108.2 235.1 107.9 235.5 107.8 236 107.7 236.5 107.6 236.9 107.6 237.4 107.7 238 107.7 238.8 107.9 239.7 108 240.7 108.2 241.5 108.3 242.2 108.4 242.8 108.5 243.3 108.8 243.8 109.2 244.2 109.7 244.6 110.3 244.9 110.9 245.3 111.5 245.7 112.2 246.1 112.8 246.4 113.4 246.8 113.8 247.2 114.1 247.6 114.5 247.9 114.9 248.3 115.3 248.6 115.9 249 116.4 249.3 117 249.7 117.5 250.1 118.2 250.6 118.7 251 119.3 251.4 119.7 251.7 120 252 120.4 252.3 120.7 252.6 121 252.9 121.3 253.2 121.5 253.5 121.6 253.8 121.4 254.1 121.1 254.4 120.7 254.7 120.4 255 120 255.3 119.6 255.5 119.2 255.7 119 256 118.9 256.3 119 256.6 119.1 256.9 119.3 257.3 119.4 257.8 119.4 258.4 119.5 259 119.6 259.5 119.6 260 119.5 260.5 119.5 261 119.3 261.4 118.9 261.8 118.5 262.1 117.9 262.5 117.4 262.8 116.7 263.2 116 263.5 115.3 263.9 114.6 264.3 113.8 264.7 113 265.1 112.2 265.4 111.4 265.8 110.5 266.2 109.7 266.5 108.9 266.8 108.2 267.2 107.6 267.6 107 268 106.6 268.4 106.2 268.8 105.8 269.2 105.6 269.6 105.3 270 105.2 270.5 105 271.1 105 271.7 104.9 272.2 104.9 272.6 103.9 272.6 103.8 272.2 103.8 271.7 103.7 271.1 103.6 270.5 103.4 270 103.2 269.6 102.9 269.2 102.6 268.8 102.2 268.4 101.7 268 101.2 267.6 100.6 267.2 99.9 266.8 99 266.5 98.2 266.2 97.4 265.8 96.6 265.4 95.7 265.1 94.9 264.7 94.2 264.3 93.4 263.9 92.7 263.5 92 263.2 91.4 262.8 90.8 262.5 90.3 262.1 89.8 261.8 89.5 261.4 89.3 261 89.2 260.5 89.2 260 89.2 259.5 89.2 259 89.3 258.4 89.4 257.8 89.5 257.3 89.6 256.9 89.7 256.6 89.8 256.3 89.8 256 89.5 255.7 89.2 255.5 88.7 255.3 88.4 255 88 254.7 87.6 254.4 87.3 254.1 87.2 253.8 87.2 253.5 87.5 253.2 87.8 252.9 88.1 252.6 88.4 252.3 88.7 252 89 251.7 89.5 251.4 90 251 90.6 250.6 91.2 250.1 91.8 249.7 92.3 249.3 92.9 249 93.4 248.6 93.9 248.3 94.3 247.9 94.6 247.6 94.9 247.2 95.4 246.8 95.9 246.4 96.6 246.1 97.2 245.7 97.9 245.3 98.4 244.9 99 244.6 99.6 244.2 100 243.8 100.2 243.3 100.4 242.8 100.5 242.2 100.6 241.5 100.7 240.7 100.9 239.7 101 238.8 101.1 238 101.1 237.4 101.1 236.9 101.1 236.5 101 236 100.8 235.5 100.5 235.1 100.3 234.6 100.1 234.2 100.1 233.7 100.2 233.2 100.3 232.7 100.4 232.3 100.6 231.8 100.7 231.3 101 230.8 101.2 230.3 101.4 229.9 101.6 229.4 101.8 228.9 102.1 228.4 102.3 227.9 102.5 227.5 102.7 227 103 226.5 103.2 226 103.5 225.6 103.8 225.1 104 224.6 104 224 103.9 223.4 103.8 222.7 103.7 222 103.6 221.3 103.4 220.4 103.3 219.6 103.2 218.8 103.3 218.2 103.5 217.6 103.8 217 104 216.3 104.1 215.4 104.2 214.5 104.2 213.5 104.2 212.4 104.2 211.2 104.2 209.8 104.1 208.5 104 207.3 103.8 206.5 103.6 205.9 103.4 205.4 103.3 204.8 103.4 204.2 103.7 203.6 103.9 203 104.1 202.2 104.2 201.1 104.3 199.6 104.3 198.3 104.4 197.4Z" fill="#4040FF" stroke="#000" stroke-width="1.25" stroke-linejoin="round"/>
<line x1="95.63" y1="247.21" x2="113.09" y2="247.21" stroke="#3030CC" stroke-width="0.6" stroke-dasharray="3 0.8"/>
<line x1="89.86" y1="260.12" x2="118.86" y2="260.12" stroke="#3030CC" stroke-width="0.6" stroke-dasharray="3 0.8"/>
<line x1="88.52" y1="254.36" x2="120.21" y2="254.36" stroke="#000" stroke-width="0.95" stroke-dasharray="2.3 1.8"/>
<line x1="195.5" y1="187.95" x2="195.5" y2="272.6" stroke="#7a7a7a" stroke-width="1.25"/>
<line x1="192.1" y1="272.6" x2="321.9" y2="272.6" stroke="#262626" stroke-width="1.1"/>
<line x1="192.1" y1="188.4" x2="195.5" y2="188.4" stroke="#000" stroke-width="0.85"/>
<text x="191" y="190.78" font-size="6.7" font-weight="bold" text-anchor="end" fill="#333">15</text>
<line x1="192.1" y1="216.37" x2="195.5" y2="216.37" stroke="#000" stroke-width="0.85"/>
<text x="191" y="218.75" font-size="6.7" font-weight="bold" text-anchor="end" fill="#333">10</text>
<line x1="192.1" y1="244.33" x2="195.5" y2="244.33" stroke="#000" stroke-width="0.85"/>
<text x="191" y="246.71" font-size="6.7" font-weight="bold" text-anchor="end" fill="#333">5</text>
<line x1="192.1" y1="272.3" x2="195.5" y2="272.3" stroke="#000" stroke-width="0.85"/>
<text x="191" y="274.68" font-size="6.7" font-weight="bold" text-anchor="end" fill="#333">0</text>
<line x1="231.26" y1="272.6" x2="231.26" y2="275.8" stroke="#222" stroke-width="0.85"/>
<line x1="285.54" y1="272.6" x2="285.54" y2="275.8" stroke="#222" stroke-width="0.85"/>
<text x="231.26" y="282.5" font-size="6.5" font-weight="bold" text-anchor="middle" fill="#111" textLength="44.7" lengthAdjust="spacingAndGlyphs">Drug-naïve BD</text>
<text x="285.54" y="282.5" font-size="6.5" font-weight="bold" text-anchor="middle" fill="#111" textLength="42.6" lengthAdjust="spacingAndGlyphs">Medicated BD</text>
<text x="258.35" y="177.3" font-size="7.9" font-weight="bold" text-anchor="middle" fill="#000" textLength="37.3" lengthAdjust="spacingAndGlyphs">FSH (IU/L)</text>
<path d="M231.3 211.5 231.3 212.3 231.4 213.4 231.4 214.6 231.6 215.5 231.7 216 231.9 216.4 232.1 216.7 232.3 217 232.4 217.4 232.4 217.7 232.5 218.1 232.5 218.5 232.4 218.8 232.2 219.2 232.1 219.6 232 220 231.9 220.4 231.8 220.9 231.8 221.3 232 221.8 232.2 222.2 232.6 222.6 233 223 233.5 223.5 234 223.9 234.6 224.3 235.3 224.7 236 225.2 236.7 225.6 237.5 226.1 238.3 226.5 238.9 227 239.5 227.4 240.1 227.7 240.5 228.1 240.7 228.5 240.8 228.8 240.6 229.2 240.3 229.6 239.9 230 239.5 230.3 238.9 230.7 238.3 231.1 237.9 231.4 237.8 231.8 237.8 232.2 238 232.6 238.4 232.9 239.3 233.3 240.5 233.7 241.8 234.1 242.9 234.4 244 234.8 245.1 235.2 246.1 235.6 246.9 235.9 247.6 236.3 248.1 236.6 248.4 236.8 248.4 237.1 248.1 237.5 247.6 237.8 246.9 238.1 246.4 238.4 246.1 238.8 245.8 239.1 245.6 239.5 245.4 239.9 245.3 240.4 245.2 240.9 245.1 241.4 244.9 241.9 244.7 242.4 244.5 243 244.2 243.5 243.9 243.9 243.6 244.3 243.3 244.7 242.9 245.1 242.4 245.4 241.9 245.8 241.3 246.2 240.6 246.5 239.9 246.9 239.2 247.3 238.4 247.7 237.7 248 236.9 248.4 236.3 248.8 235.6 249.2 235 249.5 234.5 249.9 234 250.3 233.7 250.6 233.4 251 233.2 251.4 232.9 251.9 232.8 252.4 232.6 252.9 232.5 253.4 232.3 253.8 232.2 254.2 232.1 254.5 232 254.9 231.8 255.3 231.6 255.7 231.5 256 231.5 256.4 231.5 256.8 231.7 257.1 231.8 257.5 232 257.9 232.1 258.3 232.2 258.6 232.2 259 232.3 259.4 232.2 259.8 232.2 260.1 232.1 260.5 232 260.9 231.8 261.2 231.7 261.5 231.6 261.8 231.5 262.4 231.4 263.3 231.3 264.5 231.3 265.6 231.3 266.4 231.3 266.4 231.2 265.6 231.2 264.5 231.1 263.3 231.1 262.4 231 261.8 230.8 261.5 230.7 261.2 230.6 260.9 230.5 260.5 230.4 260.1 230.3 259.8 230.3 259.4 230.3 259 230.4 258.6 230.5 258.3 230.6 257.9 230.7 257.5 230.9 257.1 231 256.8 231.1 256.4 231 256 230.9 255.7 230.7 255.3 230.6 254.9 230.4 254.5 230.3 254.2 230.2 253.8 230.1 253.4 229.9 252.9 229.8 252.4 229.6 251.9 229.4 251.4 229.1 251 228.8 250.6 228.5 250.3 228.1 249.9 227.5 249.5 226.9 249.2 226.3 248.8 225.6 248.4 224.8 248 224.1 247.7 223.3 247.3 222.6 246.9 221.9 246.5 221.2 246.2 220.6 245.8 220.1 245.4 219.6 245.1 219.2 244.7 218.9 244.3 218.6 243.9 218.3 243.5 218 243 217.8 242.4 217.6 241.9 217.4 241.4 217.3 240.9 217.2 240.4 217.1 239.9 216.9 239.5 216.7 239.1 216.4 238.8 216.1 238.4 215.6 238.1 214.9 237.8 214.4 237.5 214.1 237.1 214.2 236.8 214.5 236.6 215 236.3 215.6 235.9 216.4 235.6 217.4 235.2 218.5 234.8 219.6 234.4 220.8 234.1 222 233.7 223.2 233.3 224.1 232.9 224.5 232.6 224.7 232.2 224.7 231.8 224.6 231.4 224.2 231.1 223.7 230.7 223.1 230.3 222.6 230 222.2 229.6 221.9 229.2 221.8 228.8 221.8 228.5 222 228.1 222.4 227.7 223 227.4 223.6 227 224.3 226.5 225 226.1 225.8 225.6 226.6 225.2 227.3 224.7 227.9 224.3 228.5 223.9 229.1 223.5 229.5 223 230 222.6 230.3 222.2 230.6 221.8 230.7 221.3 230.7 220.9 230.6 220.4 230.6 220 230.5 219.6 230.3 219.2 230.1 218.8 230.1 218.5 230.1 218.1 230.1 217.7 230.2 217.4 230.3 217 230.4 216.7 230.6 216.4 230.8 216 231 215.5 231.1 214.6 231.2 213.4 231.2 212.3 231.3 211.5Z" fill="#FF8080" stroke="#000" stroke-width="1.25" stroke-linejoin="round"/>
<line x1="223.92" y1="233.15" x2="238.6" y2="233.15" stroke="#DA6868" stroke-width="0.6" stroke-dasharray="3 0.8"/>
<line x1="218.99" y1="243.43" x2="243.53" y2="243.43" stroke="#DA6868" stroke-width="0.6" stroke-dasharray="3 0.8"/>
<line x1="216.48" y1="238.14" x2="246.04" y2="238.14" stroke="#000" stroke-width="0.95" stroke-dasharray="2.3 1.8"/>
<path d="M285.5 214.5 285.6 215.3 285.6 216.5 285.7 217.7 285.8 218.7 286.1 219.3 286.4 219.7 286.7 220 287 220.4 287.3 221 287.5 221.6 287.7 222.3 287.9 222.9 288.2 223.5 288.4 224.1 288.7 224.6 289.1 225.1 289.9 225.6 290.9 226 291.9 226.3 292.9 226.7 294 227 295.1 227.4 296.2 227.7 297.1 228 298.1 228.3 299 228.7 299.7 229 300.1 229.3 300.2 229.6 300 229.9 299.6 230.2 299.2 230.5 298.8 230.9 298.2 231.3 297.6 231.8 297.3 232.2 297.4 232.6 297.7 232.9 298.1 233.2 298.4 233.5 298.7 233.8 298.9 234 299.2 234.3 299.6 234.7 300.2 235.3 301 236 301.7 236.7 302.2 237.3 302.6 237.8 302.8 238.2 302.9 238.6 302.8 239 302.6 239.3 302.2 239.7 301.8 239.9 301.3 240.2 300.9 240.4 300.5 240.7 300.1 240.9 299.8 241.1 299.7 241.4 299.7 241.7 299.7 242 299.6 242.3 299.7 242.6 299.7 242.9 299.7 243.2 299.5 243.6 299.2 244 298.7 244.5 298.1 244.9 297.6 245.3 297.2 245.6 296.7 245.9 296.3 246.2 295.9 246.5 295.6 246.8 295.2 247.1 294.9 247.5 294.6 247.8 294.4 248.1 294.3 248.4 294.2 248.7 293.9 249 293.7 249.3 293.3 249.6 293 250 292.5 250.3 292.1 250.6 291.5 251 291 251.3 290.4 251.6 289.9 251.9 289.5 252.2 289 252.5 288.5 252.8 288.1 253.1 287.7 253.4 287.4 253.7 287 254.1 286.7 254.5 286.4 254.8 286.1 255.2 285.9 255.8 285.7 256.6 285.6 257.7 285.6 258.6 285.5 259.3 285.5 259.3 285.5 258.6 285.4 257.7 285.3 256.6 285.2 255.8 285 255.2 284.7 254.8 284.4 254.5 284 254.1 283.7 253.7 283.3 253.4 282.9 253.1 282.5 252.8 282.1 252.5 281.6 252.2 281.1 251.9 280.6 251.6 280.1 251.3 279.6 251 279 250.6 278.5 250.3 278.1 250 277.8 249.6 277.4 249.3 277.1 249 276.9 248.7 276.8 248.4 276.6 248.1 276.4 247.8 276.2 247.5 275.9 247.1 275.5 246.8 275.1 246.5 274.7 246.2 274.3 245.9 273.9 245.6 273.4 245.3 272.9 244.9 272.4 244.5 271.9 244 271.5 243.6 271.4 243.2 271.4 242.9 271.4 242.6 271.4 242.3 271.4 242 271.4 241.7 271.4 241.4 271.2 241.1 271 240.9 270.6 240.7 270.1 240.4 269.7 240.2 269.3 239.9 268.9 239.7 268.5 239.3 268.2 239 268.2 238.6 268.3 238.2 268.5 237.8 268.8 237.3 269.4 236.7 270.1 236 270.8 235.3 271.4 234.7 271.8 234.3 272.1 234 272.4 233.8 272.6 233.5 273 233.2 273.4 232.9 273.7 232.6 273.7 232.2 273.5 231.8 272.9 231.3 272.3 230.9 271.8 230.5 271.4 230.2 271.1 229.9 270.9 229.6 270.9 229.3 271.4 229 272.1 228.7 273 228.3 273.9 228 274.9 227.7 276 227.4 277.1 227 278.1 226.7 279.2 226.3 280.2 226 281.2 225.6 281.9 225.1 282.4 224.6 282.7 224.1 282.9 223.5 283.1 222.9 283.4 222.3 283.6 221.6 283.8 221 284 220.4 284.3 220 284.7 219.7 285 219.3 285.2 218.7 285.4 217.7 285.5 216.5 285.5 215.3 285.5 214.5Z" fill="#4040FF" stroke="#000" stroke-width="1.25" stroke-linejoin="round"/>
<line x1="274.38" y1="232.45" x2="296.7" y2="232.45" stroke="#3030CC" stroke-width="0.6" stroke-dasharray="3 0.8"/>
<line x1="274.14" y1="245.12" x2="296.93" y2="245.12" stroke="#3030CC" stroke-width="0.6" stroke-dasharray="3 0.8"/>
<line x1="269.14" y1="238.93" x2="301.93" y2="238.93" stroke="#000" stroke-width="0.95" stroke-dasharray="2.3 1.8"/>
<line x1="376.5" y1="187.95" x2="376.5" y2="272.5" stroke="#333" stroke-width="0.95"/>
<line x1="373.1" y1="272.5" x2="503.1" y2="272.5" stroke="#262626" stroke-width="1.1"/>
<line x1="373.1" y1="188.4" x2="376.5" y2="188.4" stroke="#000" stroke-width="0.85"/>
<text x="372" y="190.81" font-size="6.8" font-weight="bold" text-anchor="end" fill="#000">4</text>
<line x1="373.1" y1="209.43" x2="376.5" y2="209.43" stroke="#000" stroke-width="0.85"/>
<text x="372" y="211.84" font-size="6.8" font-weight="bold" text-anchor="end" fill="#000">3</text>
<line x1="373.1" y1="230.45" x2="376.5" y2="230.45" stroke="#000" stroke-width="0.85"/>
<text x="372" y="232.86" font-size="6.8" font-weight="bold" text-anchor="end" fill="#000">2</text>
<line x1="373.1" y1="251.47" x2="376.5" y2="251.47" stroke="#000" stroke-width="0.85"/>
<text x="372" y="253.89" font-size="6.8" font-weight="bold" text-anchor="end" fill="#000">1</text>
<line x1="373.1" y1="272.5" x2="376.5" y2="272.5" stroke="#000" stroke-width="0.85"/>
<text x="372" y="274.91" font-size="6.8" font-weight="bold" text-anchor="end" fill="#000">0</text>
<line x1="412.56" y1="272.5" x2="412.56" y2="275.7" stroke="#222" stroke-width="0.85"/>
<line x1="466.62" y1="272.5" x2="466.62" y2="275.7" stroke="#222" stroke-width="0.85"/>
<text x="412.56" y="282.7" font-size="6.5" font-weight="bold" text-anchor="middle" fill="#111" textLength="44.7" lengthAdjust="spacingAndGlyphs">Drug-naïve BD</text>
<text x="466.62" y="282.7" font-size="6.5" font-weight="bold" text-anchor="middle" fill="#111" textLength="42.6" lengthAdjust="spacingAndGlyphs">Medicated BD</text>
<text x="439.45" y="177.3" font-size="7.9" font-weight="bold" text-anchor="middle" fill="#000" textLength="27.5" lengthAdjust="spacingAndGlyphs">LH/FSH</text>
<path d="M412.6 220.2 412.6 220.8 412.7 221.7 412.8 222.7 413 223.5 413.2 224 413.5 224.3 413.9 224.6 414.2 225 414.4 225.4 414.6 225.9 414.8 226.4 415 227 415.1 227.6 415.1 228.2 415.2 228.8 415.2 229.5 415.1 230.1 415 230.7 414.9 231.4 414.8 232 414.5 232.5 414.3 233 414 233.5 413.8 234 413.5 234.3 413.3 234.7 413.1 235 413 235.5 412.8 236 412.7 236.6 412.7 237.3 412.7 237.9 412.7 238.6 412.7 239.3 412.8 239.9 413 240.4 413.1 240.9 413.4 241.2 413.7 241.6 414 241.9 414.3 242.4 414.6 242.9 415 243.4 415.5 243.9 415.9 244.4 416.5 244.9 417 245.4 417.4 245.9 417.8 246.4 418.2 247 418.5 247.5 418.7 247.9 418.9 248.3 419 248.7 419.1 249.1 419.1 249.4 419.1 249.8 419.1 250.2 419 250.5 418.9 250.9 418.9 251.3 418.7 251.7 418.7 252 418.7 252.4 419 252.8 419.4 253.1 419.8 253.5 420.4 253.9 421.2 254.4 422.1 254.9 423 255.4 423.9 255.9 424.8 256.4 425.8 256.9 426.6 257.4 427.4 257.9 428.2 258.4 428.8 258.8 429.4 259.3 429.7 259.7 429.8 260.1 429.7 260.6 429.4 261 429.1 261.4 428.8 261.8 428.5 262.2 428.1 262.6 427.7 262.9 427.3 263.2 426.9 263.4 426.5 263.6 426.1 263.9 425.8 264.2 425.6 264.6 425.3 265 425.1 265.4 425 265.7 424.9 266 424.7 266.3 424.4 266.6 424 266.9 423.4 267.2 422.7 267.6 421.9 267.9 421 268.2 419.8 268.6 418.7 268.9 417.6 269.3 416.7 269.6 415.9 270 415.1 270.3 414.5 270.7 413.9 271.1 413.4 271.6 413 272 412.8 272.3 412.4 272.3 412.1 272 411.7 271.6 411.2 271.1 410.7 270.7 410 270.3 409.2 270 408.4 269.6 407.5 269.3 406.4 268.9 405.3 268.6 404.1 268.2 403.2 267.9 402.4 267.6 401.7 267.2 401.1 266.9 400.7 266.6 400.4 266.3 400.2 266 400.1 265.7 400 265.4 399.8 265 399.5 264.6 399.3 264.2 399 263.9 398.6 263.6 398.2 263.4 397.8 263.2 397.4 262.9 397 262.6 396.6 262.2 396.3 261.8 396 261.4 395.7 261 395.5 260.6 395.3 260.1 395.4 259.7 395.7 259.3 396.3 258.8 397 258.4 397.7 257.9 398.5 257.4 399.4 256.9 400.3 256.4 401.2 255.9 402.1 255.4 403 254.9 403.9 254.4 404.7 253.9 405.3 253.5 405.8 253.1 406.1 252.8 406.4 252.4 406.5 252 406.4 251.7 406.3 251.3 406.2 250.9 406.1 250.5 406 250.2 406 249.8 406 249.4 406 249.1 406.1 248.7 406.2 248.3 406.4 247.9 406.6 247.5 406.9 247 407.3 246.4 407.7 245.9 408.1 245.4 408.7 244.9 409.2 244.4 409.7 243.9 410.1 243.4 410.5 242.9 410.8 242.4 411.2 241.9 411.5 241.6 411.7 241.2 412 240.9 412.2 240.4 412.3 239.9 412.4 239.3 412.4 238.6 412.5 237.9 412.4 237.3 412.4 236.6 412.3 236 412.2 235.5 412 235 411.8 234.7 411.6 234.3 411.4 234 411.1 233.5 410.8 233 410.6 232.5 410.4 232 410.2 231.4 410.1 230.7 410 230.1 410 229.5 410 228.8 410 228.2 410.1 227.6 410.2 227 410.3 226.4 410.5 225.9 410.7 225.4 411 225 411.3 224.6 411.6 224.3 411.9 224 412.2 223.5 412.3 222.7 412.4 221.7 412.5 220.8 412.6 220.2Z" fill="#FF8080" stroke="#000" stroke-width="1.25" stroke-linejoin="round"/>
<line x1="407.07" y1="252.42" x2="418.05" y2="252.42" stroke="#DA6868" stroke-width="0.6" stroke-dasharray="3 0.8"/>
<line x1="397.71" y1="262.4" x2="427.41" y2="262.4" stroke="#DA6868" stroke-width="0.6" stroke-dasharray="3 0.8"/>
<line x1="397.86" y1="258.41" x2="427.26" y2="258.41" stroke="#000" stroke-width="0.95" stroke-dasharray="2.3 1.8"/>
<path d="M466.6 200.4 466.7 201.2 466.7 202.4 466.8 203.7 466.9 204.8 467 205.4 467.1 205.9 467.3 206.3 467.4 206.6 467.4 207 467.4 207.2 467.3 207.5 467.2 207.9 467.1 208.2 467 208.6 466.9 209 466.8 209.8 466.7 210.7 466.6 211.8 466.6 213.2 466.6 214.8 466.6 216.8 466.6 219.3 466.7 221.7 466.8 223.5 466.9 224.6 467 225.2 467.2 225.6 467.4 226 467.6 226.5 467.9 226.9 468.1 227.4 468.2 227.9 468.3 228.5 468.3 229.1 468.3 229.7 468.2 230.4 468.1 231 467.9 231.6 467.7 232.2 467.6 232.9 467.6 233.6 467.7 234.4 467.8 235.2 468 236 468.2 236.8 468.4 237.6 468.7 238.4 468.9 239.1 469 239.7 469.1 240.1 469.2 240.5 469.2 241 469.2 241.6 469 242.2 468.9 242.9 468.9 243.5 468.9 244 469 244.5 469.2 244.9 469.5 245.4 469.9 245.8 470.4 246.3 470.9 246.8 471.4 247.2 471.7 247.7 472.1 248.2 472.4 248.7 472.6 249.1 472.8 249.6 472.9 250.1 473.1 250.5 473.2 251 473.5 251.5 473.8 251.9 474.1 252.4 474.5 252.9 475 253.3 475.6 253.8 476.3 254.2 477 254.8 477.9 255.3 478.9 256 479.9 256.7 480.8 257.2 481.5 257.8 482.2 258.2 482.8 258.7 483.2 259.1 483.7 259.6 484 260 484.2 260.4 484.2 260.8 484.2 261.1 484 261.5 483.7 261.9 483.2 262.2 482.6 262.7 481.9 263.2 481 263.6 480.1 264.1 479.2 264.6 478.3 265.1 477.4 265.5 476.4 266 475.3 266.5 474.2 266.9 473.1 267.4 472 267.9 471 268.3 469.9 268.8 469 269.3 468.2 269.8 467.7 270.2 467.3 270.7 467 271.2 466.8 271.5 466.5 271.5 466.3 271.2 466 270.7 465.6 270.2 465 269.8 464.2 269.3 463.3 268.8 462.3 268.3 461.2 267.9 460.2 267.4 459.1 266.9 457.9 266.5 456.9 266 455.9 265.5 454.9 265.1 454 264.6 453.1 264.1 452.2 263.6 451.4 263.2 450.6 262.7 450 262.2 449.6 261.9 449.2 261.5 449.1 261.1 449 260.8 449.1 260.4 449.3 260 449.6 259.6 450 259.1 450.5 258.7 451.1 258.2 451.8 257.8 452.5 257.2 453.4 256.7 454.4 256 455.4 255.3 456.2 254.8 457 254.2 457.7 253.8 458.2 253.3 458.8 252.9 459.2 252.4 459.5 251.9 459.8 251.5 460 251 460.2 250.5 460.3 250.1 460.4 249.6 460.6 249.1 460.9 248.7 461.2 248.2 461.5 247.7 461.9 247.2 462.3 246.8 462.9 246.3 463.4 245.8 463.8 245.4 464 244.9 464.2 244.5 464.3 244 464.4 243.5 464.3 242.9 464.2 242.2 464.1 241.6 464 241 464 240.5 464.1 240.1 464.2 239.7 464.4 239.1 464.6 238.4 464.8 237.6 465.1 236.8 465.2 236 465.4 235.2 465.5 234.4 465.6 233.6 465.6 232.9 465.5 232.2 465.3 231.6 465.1 231 465 230.4 464.9 229.7 464.9 229.1 464.9 228.5 465 227.9 465.2 227.4 465.4 226.9 465.7 226.5 465.9 226 466.1 225.6 466.2 225.2 466.4 224.6 466.5 223.5 466.6 221.7 466.6 219.3 466.6 216.8 466.6 214.8 466.6 213.2 466.6 211.8 466.6 210.7 466.5 209.8 466.4 209 466.2 208.6 466.1 208.2 466 207.9 465.9 207.5 465.9 207.2 465.9 207 465.9 206.6 466 206.3 466.1 205.9 466.3 205.4 466.4 204.8 466.5 203.7 466.5 202.4 466.6 201.2 466.6 200.4Z" fill="#4040FF" stroke="#000" stroke-width="1.25" stroke-linejoin="round"/>
<line x1="460.89" y1="250.38" x2="472.36" y2="250.38" stroke="#3030CC" stroke-width="0.6" stroke-dasharray="3 0.8"/>
<line x1="449.76" y1="261.25" x2="483.49" y2="261.25" stroke="#3030CC" stroke-width="0.6" stroke-dasharray="3 0.8"/>
<line x1="451.98" y1="258.25" x2="481.27" y2="258.25" stroke="#000" stroke-width="0.95" stroke-dasharray="2.3 1.8"/>
<line x1="557.5" y1="187.95" x2="557.5" y2="272.5" stroke="#333" stroke-width="0.95"/>
<line x1="554.1" y1="272.5" x2="685.5" y2="272.5" stroke="#262626" stroke-width="1.1"/>
<line x1="554.1" y1="188.4" x2="557.5" y2="188.4" stroke="#000" stroke-width="0.85"/>
<text x="553" y="190.78" font-size="6.7" font-weight="bold" text-anchor="end" fill="#000">40</text>
<line x1="554.1" y1="205.22" x2="557.5" y2="205.22" stroke="#000" stroke-width="0.85"/>
<text x="553" y="207.6" font-size="6.7" font-weight="bold" text-anchor="end" fill="#000">30</text>
<line x1="554.1" y1="222.04" x2="557.5" y2="222.04" stroke="#000" stroke-width="0.85"/>
<text x="553" y="224.42" font-size="6.7" font-weight="bold" text-anchor="end" fill="#000">20</text>
<line x1="554.1" y1="238.86" x2="557.5" y2="238.86" stroke="#000" stroke-width="0.85"/>
<text x="553" y="241.24" font-size="6.7" font-weight="bold" text-anchor="end" fill="#000">10</text>
<line x1="554.1" y1="255.68" x2="557.5" y2="255.68" stroke="#000" stroke-width="0.85"/>
<text x="553" y="258.06" font-size="6.7" font-weight="bold" text-anchor="end" fill="#000">0</text>
<line x1="554.1" y1="272.5" x2="557.5" y2="272.5" stroke="#000" stroke-width="0.85"/>
<text x="553" y="274.88" font-size="6.7" font-weight="bold" text-anchor="end" fill="#000">-10</text>
<line x1="593.66" y1="272.5" x2="593.66" y2="275.7" stroke="#222" stroke-width="0.85"/>
<line x1="648.02" y1="272.5" x2="648.02" y2="275.7" stroke="#222" stroke-width="0.85"/>
<text x="593.66" y="282.7" font-size="6.5" font-weight="bold" text-anchor="middle" fill="#111" textLength="44.7" lengthAdjust="spacingAndGlyphs">Drug-naïve BD</text>
<text x="648.02" y="282.7" font-size="6.5" font-weight="bold" text-anchor="middle" fill="#111" textLength="42.6" lengthAdjust="spacingAndGlyphs">Medicated BD</text>
<text x="621.1" y="177.3" font-size="7.9" font-weight="bold" text-anchor="middle" fill="#000" textLength="39.4" lengthAdjust="spacingAndGlyphs">PRL (µg/L)</text>
<path d="M593.7 206 593.7 206.7 593.8 207.7 593.8 208.7 594 209.5 594.1 210 594.3 210.3 594.5 210.5 594.7 210.8 594.8 211.1 594.9 211.4 594.9 211.7 595 212 594.9 212.3 594.7 212.7 594.6 213.1 594.5 213.5 594.3 213.8 594.2 214.1 594.1 214.5 594.2 214.8 594.3 215.1 594.6 215.4 594.9 215.7 595.2 216 595.5 216.3 595.8 216.7 596.2 217.1 596.5 217.5 596.6 217.8 596.8 218.2 596.9 218.6 597 219 597 219.3 596.9 219.7 596.9 220.1 597 220.5 597.2 220.8 597.4 221.2 597.7 221.6 598 222 598.1 222.3 598.2 222.7 598.2 223.1 598.1 223.5 598.1 223.8 597.9 224.2 597.7 224.5 597.5 225 597.1 225.4 596.7 226 596.3 226.5 596 227 595.6 227.4 595.2 227.7 594.9 228.1 595 228.4 595.5 228.9 596.3 229.4 597.2 229.9 598 230.3 598.3 230.7 598.6 231 598.8 231.3 598.9 231.5 599.1 231.8 599.2 232.1 599.3 232.3 599.5 232.5 599.9 232.8 600.4 233 601 233.3 601.6 233.5 602.4 233.8 603.2 234.1 604.1 234.4 605 234.7 606 235.2 607 235.8 608 236.4 608.8 236.9 609.4 237.5 609.9 238 610.3 238.6 610.6 239 610.9 239.4 611.1 239.8 611.2 240.1 611.3 240.4 611.4 240.6 611.5 240.7 611.5 240.8 611.4 241 611.3 241.3 611.2 241.6 610.9 242 610.6 242.3 610.2 242.7 609.7 243 609.1 243.4 608.5 243.7 608 244.1 607.5 244.5 607 244.8 606.4 245.2 606 245.5 605.6 245.8 605.1 246.2 604.4 246.6 603.4 247.3 602.1 248.1 600.8 248.8 599.7 249.5 599 250 598.5 250.3 598.1 250.7 597.7 251 597.2 251.3 596.8 251.6 596.4 251.9 596 252.4 595.5 253 595 253.7 594.6 254.6 594.3 255.4 594 256.4 593.9 257.5 593.7 258.5 593.7 259.2 593.7 259.2 593.6 258.5 593.5 257.5 593.3 256.4 593.1 255.4 592.7 254.6 592.3 253.7 591.8 253 591.4 252.4 590.9 251.9 590.5 251.6 590.1 251.3 589.7 251 589.2 250.7 588.8 250.3 588.3 250 587.6 249.5 586.5 248.8 585.2 248.1 583.9 247.3 582.9 246.6 582.2 246.2 581.7 245.8 581.3 245.5 580.9 245.2 580.4 244.8 579.8 244.5 579.3 244.1 578.8 243.7 578.2 243.4 577.7 243 577.1 242.7 576.7 242.3 576.4 242 576.2 241.6 576 241.3 575.9 241 575.8 240.8 575.9 240.7 575.9 240.6 576 240.4 576.1 240.1 576.2 239.8 576.4 239.4 576.7 239 577 238.6 577.4 238 577.9 237.5 578.5 236.9 579.3 236.4 580.3 235.8 581.3 235.2 582.3 234.7 583.2 234.4 584.1 234.1 584.9 233.8 585.7 233.5 586.3 233.3 586.9 233 587.4 232.8 587.8 232.5 588 232.3 588.1 232.1 588.2 231.8 588.4 231.5 588.5 231.3 588.7 231 589 230.7 589.4 230.3 590.1 229.9 591 229.4 591.8 228.9 592.4 228.4 592.4 228.1 592.1 227.7 591.7 227.4 591.4 227 591 226.5 590.6 226 590.2 225.4 589.9 225 589.6 224.5 589.4 224.2 589.3 223.8 589.2 223.5 589.1 223.1 589.2 222.7 589.2 222.3 589.4 222 589.6 221.6 589.9 221.2 590.2 220.8 590.4 220.5 590.4 220.1 590.4 219.7 590.4 219.3 590.4 219 590.4 218.6 590.5 218.2 590.7 217.8 590.9 217.5 591.1 217.1 591.5 216.7 591.8 216.3 592.2 216 592.5 215.7 592.8 215.4 593 215.1 593.2 214.8 593.2 214.5 593.1 214.1 593 213.8 592.9 213.5 592.7 213.1 592.6 212.7 592.4 212.3 592.4 212 592.4 211.7 592.4 211.4 592.5 211.1 592.7 210.8 592.8 210.5 593 210.3 593.2 210 593.4 209.5 593.5 208.7 593.6 207.7 593.6 206.7 593.7 206Z" fill="#FF8080" stroke="#000" stroke-width="1.25" stroke-linejoin="round"/>
<line x1="583.89" y1="234.44" x2="603.43" y2="234.44" stroke="#DA6868" stroke-width="0.6" stroke-dasharray="3 0.8"/>
<line x1="578.93" y1="243.42" x2="608.38" y2="243.42" stroke="#DA6868" stroke-width="0.6" stroke-dasharray="3 0.8"/>
<line x1="577.33" y1="239.43" x2="609.99" y2="239.43" stroke="#000" stroke-width="0.95" stroke-dasharray="2.3 1.8"/>
<path d="M648 187.9 648.1 188.3 648.3 188.8 648.4 189.4 648.6 190 648.9 190.5 649.3 191.1 649.6 191.7 649.7 192.2 649.7 192.7 649.4 193.2 649.2 193.7 648.9 194.2 648.7 194.6 648.6 194.9 648.4 195.3 648.3 196 648.3 197 648.3 198.3 648.3 199.7 648.3 201 648.3 202.3 648.3 203.7 648.3 205 648.4 206 648.6 206.7 648.8 207.2 649.1 207.5 649.3 208 649.5 208.6 649.8 209.1 650 209.7 650 210.3 650 210.8 649.8 211.4 649.5 211.9 649.3 212.4 649.1 212.9 648.8 213.4 648.6 213.9 648.4 214.4 648.4 214.8 648.4 215.2 648.5 215.6 648.6 216 648.8 216.5 649 217.1 649.3 217.8 649.5 218.4 649.7 219 649.9 219.7 650 220.4 650.2 221 650.4 221.6 650.6 222.2 650.8 222.8 651 223.4 651.2 224 651.3 224.5 651.5 225.1 651.8 225.7 652.4 226.3 653.2 226.9 654 227.6 654.7 228.2 655.4 228.8 655.9 229.4 656.5 230.1 656.9 230.7 657.2 231.3 657.4 231.9 657.6 232.6 657.9 233.2 658.6 233.8 659.3 234.4 660.2 235.1 661 235.7 661.8 236.3 662.7 237 663.4 237.6 664.1 238.2 664.7 238.8 665.3 239.3 665.7 239.9 665.8 240.4 665.5 241 664.9 241.5 664.2 242.1 663.6 242.6 663.1 243.1 662.5 243.6 662.1 244 661.8 244.5 661.9 245 662.1 245.4 662.4 245.8 662.4 246.3 662.3 246.8 662 247.2 661.6 247.7 661 248.2 660.2 248.8 659.1 249.4 657.9 250.1 656.7 250.7 655.6 251.3 654.5 251.9 653.4 252.6 652.4 253.2 651.4 253.9 650.4 254.5 649.6 255.2 648.9 255.7 648.6 256 648.4 256.2 648.4 256.5 648.3 257 648.2 258 648.1 259.4 648.1 260.8 648 261.7 648 261.7 648 260.8 647.9 259.4 647.8 258 647.7 257 647.7 256.5 647.6 256.2 647.5 256 647.1 255.7 646.5 255.2 645.6 254.5 644.6 253.9 643.6 253.2 642.6 252.6 641.5 251.9 640.4 251.3 639.3 250.7 638.2 250.1 637 249.4 635.9 248.8 635 248.2 634.4 247.7 634 247.2 633.8 246.8 633.6 246.3 633.7 245.8 633.9 245.4 634.2 245 634.2 244.5 634 244 633.5 243.6 633 243.1 632.4 242.6 631.8 242.1 631.1 241.5 630.5 241 630.2 240.4 630.3 239.9 630.7 239.3 631.3 238.8 631.9 238.2 632.6 237.6 633.4 237 634.2 236.3 635 235.7 635.8 235.1 636.7 234.4 637.5 233.8 638.1 233.2 638.5 232.6 638.7 231.9 638.8 231.3 639.1 230.7 639.6 230.1 640.1 229.4 640.7 228.8 641.3 228.2 642 227.6 642.9 226.9 643.6 226.3 644.2 225.7 644.6 225.1 644.8 224.5 644.9 224 645 223.4 645.2 222.8 645.4 222.2 645.6 221.6 645.8 221 646 220.4 646.2 219.7 646.3 219 646.5 218.4 646.8 217.8 647 217.1 647.2 216.5 647.4 216 647.5 215.6 647.6 215.2 647.7 214.8 647.6 214.4 647.5 213.9 647.2 213.4 647 212.9 646.7 212.4 646.5 211.9 646.3 211.4 646.1 210.8 646 210.3 646.1 209.7 646.3 209.1 646.5 208.6 646.7 208 647 207.5 647.2 207.2 647.4 206.7 647.6 206 647.7 205 647.8 203.7 647.8 202.3 647.8 201 647.8 199.7 647.8 198.3 647.8 197 647.7 196 647.6 195.3 647.5 194.9 647.3 194.6 647.1 194.2 646.9 193.7 646.6 193.2 646.4 192.7 646.3 192.2 646.5 191.7 646.8 191.1 647.1 190.5 647.4 190 647.6 189.4 647.8 188.8 647.9 188.3 648 187.9Z" fill="#4040FF" stroke="#000" stroke-width="1.25" stroke-linejoin="round"/>
<line x1="638.82" y1="233.25" x2="657.23" y2="233.25" stroke="#3030CC" stroke-width="0.6" stroke-dasharray="3 0.8"/>
<line x1="634.47" y1="246.62" x2="661.58" y2="246.62" stroke="#3030CC" stroke-width="0.6" stroke-dasharray="3 0.8"/>
<line x1="631.41" y1="240.75" x2="664.64" y2="240.75" stroke="#000" stroke-width="0.95" stroke-dasharray="2.3 1.8"/>
<line x1="13.6" y1="365.05" x2="13.6" y2="449.3" stroke="#333" stroke-width="0.95"/>
<line x1="10.2" y1="449.3" x2="140.1" y2="449.3" stroke="#262626" stroke-width="1.1"/>
<line x1="10.2" y1="365.5" x2="13.6" y2="365.5" stroke="#000" stroke-width="0.85"/>
<text x="9.1" y="367.91" font-size="6.8" font-weight="bold" text-anchor="end" fill="#000">0.6</text>
<line x1="10.2" y1="379.45" x2="13.6" y2="379.45" stroke="#000" stroke-width="0.85"/>
<text x="9.1" y="381.86" font-size="6.8" font-weight="bold" text-anchor="end" fill="#000">0.5</text>
<line x1="10.2" y1="393.4" x2="13.6" y2="393.4" stroke="#000" stroke-width="0.85"/>
<text x="9.1" y="395.81" font-size="6.8" font-weight="bold" text-anchor="end" fill="#000">0.4</text>
<line x1="10.2" y1="407.35" x2="13.6" y2="407.35" stroke="#000" stroke-width="0.85"/>
<text x="9.1" y="409.76" font-size="6.8" font-weight="bold" text-anchor="end" fill="#000">0.3</text>
<line x1="10.2" y1="421.3" x2="13.6" y2="421.3" stroke="#000" stroke-width="0.85"/>
<text x="9.1" y="423.71" font-size="6.8" font-weight="bold" text-anchor="end" fill="#000">0.2</text>
<line x1="10.2" y1="435.25" x2="13.6" y2="435.25" stroke="#000" stroke-width="0.85"/>
<text x="9.1" y="437.66" font-size="6.8" font-weight="bold" text-anchor="end" fill="#000">0.1</text>
<line x1="10.2" y1="449.2" x2="13.6" y2="449.2" stroke="#000" stroke-width="0.85"/>
<text x="9.1" y="451.61" font-size="6.8" font-weight="bold" text-anchor="end" fill="#000">0</text>
<line x1="49.8" y1="449.3" x2="49.8" y2="452.5" stroke="#222" stroke-width="0.85"/>
<line x1="103.58" y1="449.3" x2="103.58" y2="452.5" stroke="#222" stroke-width="0.85"/>
<text x="49.8" y="459" font-size="6.5" font-weight="bold" text-anchor="middle" fill="#111" textLength="44.7" lengthAdjust="spacingAndGlyphs">Drug-naïve BD</text>
<text x="103.58" y="459" font-size="6.5" font-weight="bold" text-anchor="middle" fill="#111" textLength="42.6" lengthAdjust="spacingAndGlyphs">Medicated BD</text>
<text x="77" y="352.6" font-size="7.4" font-weight="normal" text-anchor="middle" fill="#111" textLength="40.1" lengthAdjust="spacingAndGlyphs">E<tspan font-size="5.2" dy="2.4">2</tspan><tspan dy="-2.4"> (nmol/L)</tspan></text>
<path d="M49.8 400.3 49.9 400.9 49.9 401.8 50 402.7 50.2 403.4 50.3 403.9 50.5 404.2 50.8 404.5 51 404.9 51.2 405.3 51.5 405.8 51.7 406.2 51.8 406.7 51.7 407.1 51.5 407.6 51.3 408 51.1 408.4 50.9 408.7 50.8 408.9 50.6 409 50.6 409.3 50.7 409.7 51 410.1 51.2 410.6 51.5 411 51.7 411.4 52 411.8 52.3 412.2 52.5 412.6 52.7 413 53 413.3 53.2 413.7 53.4 414 53.6 414.3 53.8 414.7 54 415 54.2 415.4 54.4 415.8 54.5 416.3 54.6 416.8 54.6 417.2 54.6 417.6 54.5 417.9 54.3 418.3 54.2 418.6 54 418.9 53.8 419.1 53.6 419.3 53.5 419.6 53.5 419.9 53.5 420.3 53.6 420.6 53.8 421 54.1 421.4 54.4 421.7 54.8 422.1 55.3 422.5 55.9 422.9 56.7 423.3 57.5 423.6 58.3 424 59.1 424.3 60 424.7 60.8 425 61.6 425.3 62.4 425.7 63.1 426.1 63.8 426.4 64.4 426.8 64.9 427.1 65.4 427.5 65.8 427.8 66.2 428.1 66.5 428.5 66.8 428.8 67.1 429.2 67.2 429.5 67.2 429.8 67.2 430.1 67 430.3 66.8 430.6 66.6 430.8 66.3 431.1 65.9 431.3 65.4 431.6 64.7 431.9 63.9 432.1 63.1 432.4 62.3 432.7 61.6 433 60.9 433.2 60.2 433.4 59.5 433.7 58.8 434 58.1 434.2 57.4 434.5 56.8 434.8 56.3 435.1 55.9 435.3 55.6 435.5 55.3 435.8 55.1 436.1 55 436.4 54.9 436.7 54.8 437 54.7 437.2 54.7 437.5 54.7 437.7 54.6 437.9 54.4 438.2 54.2 438.4 53.9 438.7 53.6 439 53.3 439.3 53.1 439.5 52.8 439.7 52.5 440 52.2 440.3 51.9 440.6 51.6 440.8 51.3 441.1 51 441.3 50.8 441.6 50.6 441.8 50.4 442.1 50.3 442.4 50.2 442.8 50.1 443.1 50 443.5 49.9 443.9 49.9 444.4 49.8 444.9 49.8 445.2 49.8 445.2 49.8 444.9 49.7 444.4 49.7 443.9 49.6 443.5 49.5 443.1 49.4 442.8 49.3 442.4 49.2 442.1 49 441.8 48.8 441.6 48.6 441.3 48.3 441.1 48 440.8 47.7 440.6 47.4 440.3 47.1 440 46.8 439.7 46.5 439.5 46.3 439.3 46 439 45.7 438.7 45.4 438.4 45.2 438.2 45 437.9 44.9 437.7 44.9 437.5 44.9 437.2 44.8 437 44.7 436.7 44.6 436.4 44.5 436.1 44.3 435.8 44 435.5 43.7 435.3 43.3 435.1 42.8 434.8 42.2 434.5 41.5 434.2 40.8 434 40.1 433.7 39.4 433.4 38.7 433.2 38 433 37.3 432.7 36.5 432.4 35.7 432.1 34.9 431.9 34.2 431.6 33.7 431.3 33.3 431.1 33 430.8 32.8 430.6 32.6 430.3 32.4 430.1 32.4 429.8 32.4 429.5 32.5 429.2 32.8 428.8 33.1 428.5 33.4 428.1 33.8 427.8 34.2 427.5 34.7 427.1 35.2 426.8 35.8 426.4 36.5 426.1 37.2 425.7 38 425.3 38.8 425 39.6 424.7 40.5 424.3 41.3 424 42.1 423.6 42.9 423.3 43.7 422.9 44.3 422.5 44.8 422.1 45.2 421.7 45.5 421.4 45.8 421 46 420.6 46.1 420.3 46.1 419.9 46.1 419.6 46 419.3 45.8 419.1 45.6 418.9 45.4 418.6 45.3 418.3 45.1 417.9 45 417.6 45 417.2 45 416.8 45.1 416.3 45.3 415.8 45.4 415.4 45.6 415 45.8 414.7 46 414.3 46.2 414 46.4 413.7 46.6 413.3 46.9 413 47.1 412.6 47.4 412.2 47.6 411.8 47.9 411.4 48.1 411 48.4 410.6 48.6 410.1 48.9 409.7 49 409.3 49 409 48.9 408.9 48.7 408.7 48.5 408.4 48.3 408 48.1 407.6 47.9 407.1 47.8 406.7 47.9 406.2 48.1 405.8 48.4 405.3 48.6 404.9 48.8 404.5 49.1 404.2 49.3 403.9 49.5 403.4 49.6 402.7 49.7 401.8 49.8 400.9 49.8 400.3Z" fill="#FF8080" stroke="#000" stroke-width="1.25" stroke-linejoin="round"/>
<line x1="42.01" y1="424.1" x2="57.6" y2="424.1" stroke="#DA6868" stroke-width="0.6" stroke-dasharray="3 0.8"/>
<line x1="37.21" y1="432.53" x2="62.39" y2="432.53" stroke="#DA6868" stroke-width="0.6" stroke-dasharray="3 0.8"/>
<line x1="33.96" y1="428.37" x2="65.65" y2="428.37" stroke="#000" stroke-width="0.95" stroke-dasharray="2.3 1.8"/>
<path d="M103.6 379.5 103.6 380.3 103.7 381.6 103.8 382.8 103.9 383.9 104.1 384.6 104.3 385.2 104.5 385.7 104.5 386.3 104.5 386.8 104.3 387.3 104.1 387.8 103.9 388.6 103.9 389.8 103.9 391.2 103.9 392.6 103.9 394 104 395.3 104 396.6 104.1 397.8 104.2 398.7 104.3 399.4 104.5 399.8 104.7 400.1 104.8 400.5 104.7 400.9 104.6 401.3 104.5 401.7 104.4 402.3 104.4 403.1 104.3 404 104.4 404.9 104.4 405.9 104.5 406.8 104.7 407.7 104.9 408.6 105.1 409.4 105.2 410.1 105.3 410.7 105.4 411.3 105.6 411.8 105.8 412.3 106.1 412.7 106.4 413.1 106.8 413.6 107.3 414 107.8 414.5 108.4 414.9 108.9 415.4 109.4 415.8 109.9 416.2 110.3 416.7 110.7 417.1 111.1 417.6 111.4 418 111.7 418.5 111.9 418.9 112.1 419.4 112.2 419.8 112.4 420.3 112.5 420.7 112.6 421.1 112.6 421.6 112.6 422 112.7 422.5 112.9 422.9 113.1 423.4 113.4 423.8 113.7 424.3 114 424.7 114.5 425.1 114.9 425.6 115.5 426 116 426.5 116.6 426.9 117.2 427.4 117.8 427.8 118.5 428.3 119.1 428.7 119.7 429.2 120.2 429.6 120.6 429.9 120.9 430.2 121.1 430.5 121 430.8 120.8 431.1 120.4 431.5 119.8 431.9 119.1 432.2 118.2 432.4 117 432.7 115.9 432.9 114.8 433.1 113.8 433.4 112.9 433.8 112.1 434.1 111.3 434.5 110.6 434.9 109.9 435.2 109.3 435.6 108.9 435.9 108.6 436.2 108.5 436.5 108.5 436.7 108.4 437 108.3 437.3 108.2 437.5 108.1 437.7 107.9 438 107.6 438.3 107.2 438.7 106.8 439.1 106.4 439.5 106 439.9 105.6 440.3 105.2 440.7 104.9 441 104.6 441.3 104.4 441.6 104.2 441.9 104.1 442.2 104 442.5 103.9 442.7 103.9 443.1 103.8 443.5 103.8 444.2 103.7 445 103.6 445.8 103.6 446.4 103.6 446.4 103.5 445.8 103.5 445 103.4 444.2 103.3 443.5 103.3 443.1 103.2 442.7 103.2 442.5 103.1 442.2 102.9 441.9 102.8 441.6 102.5 441.3 102.3 441 102 440.7 101.6 440.3 101.2 439.9 100.8 439.5 100.4 439.1 100 438.7 99.6 438.3 99.3 438 99.1 437.7 99 437.5 98.9 437.3 98.8 437 98.7 436.7 98.7 436.5 98.5 436.2 98.3 435.9 97.8 435.6 97.3 435.2 96.6 434.9 95.9 434.5 95.1 434.1 94.2 433.8 93.3 433.4 92.4 433.1 91.3 432.9 90.1 432.7 89 432.4 88.1 432.2 87.4 431.9 86.8 431.5 86.4 431.1 86.1 430.8 86.1 430.5 86.3 430.2 86.6 429.9 87 429.6 87.5 429.2 88.1 428.7 88.7 428.3 89.3 427.8 89.9 427.4 90.6 426.9 91.2 426.5 91.7 426 92.2 425.6 92.7 425.1 93.1 424.7 93.5 424.3 93.8 423.8 94.1 423.4 94.3 422.9 94.4 422.5 94.5 422 94.6 421.6 94.6 421.1 94.7 420.7 94.8 420.3 94.9 419.8 95.1 419.4 95.3 418.9 95.5 418.5 95.8 418 96.1 417.6 96.5 417.1 96.9 416.7 97.3 416.2 97.8 415.8 98.2 415.4 98.8 414.9 99.3 414.5 99.9 414 100.4 413.6 100.8 413.1 101.1 412.7 101.3 412.3 101.6 411.8 101.7 411.3 101.8 410.7 101.9 410.1 102 409.4 102.2 408.6 102.4 407.7 102.6 406.8 102.8 405.9 102.8 404.9 102.8 404 102.8 403.1 102.8 402.3 102.7 401.7 102.5 401.3 102.4 400.9 102.4 400.5 102.5 400.1 102.7 399.8 102.8 399.4 103 398.7 103.1 397.8 103.1 396.6 103.2 395.3 103.2 394 103.3 392.6 103.3 391.2 103.3 389.8 103.2 388.6 103.1 387.8 102.9 387.3 102.7 386.8 102.6 386.3 102.7 385.7 102.9 385.2 103.1 384.6 103.2 383.9 103.3 382.8 103.4 381.6 103.5 380.3 103.6 379.5Z" fill="#4040FF" stroke="#000" stroke-width="1.25" stroke-linejoin="round"/>
<line x1="95.31" y1="421.29" x2="111.85" y2="421.29" stroke="#3030CC" stroke-width="0.6" stroke-dasharray="3 0.8"/>
<line x1="92.01" y1="432.8" x2="115.16" y2="432.8" stroke="#3030CC" stroke-width="0.6" stroke-dasharray="3 0.8"/>
<line x1="89.61" y1="428.41" x2="117.56" y2="428.41" stroke="#000" stroke-width="0.95" stroke-dasharray="2.3 1.8"/>
<line x1="195.5" y1="364.05" x2="195.5" y2="448.4" stroke="#7a7a7a" stroke-width="1.25"/>
<line x1="192.1" y1="448.4" x2="321.9" y2="448.4" stroke="#262626" stroke-width="1.1"/>
<line x1="192.1" y1="364.5" x2="195.5" y2="364.5" stroke="#000" stroke-width="0.85"/>
<text x="191" y="366.88" font-size="6.7" font-weight="bold" text-anchor="end" fill="#333">3.0</text>
<line x1="192.1" y1="378.45" x2="195.5" y2="378.45" stroke="#000" stroke-width="0.85"/>
<text x="191" y="380.83" font-size="6.7" font-weight="bold" text-anchor="end" fill="#333">2.5</text>
<line x1="192.1" y1="392.4" x2="195.5" y2="392.4" stroke="#000" stroke-width="0.85"/>
<text x="191" y="394.78" font-size="6.7" font-weight="bold" text-anchor="end" fill="#333">2.0</text>
<line x1="192.1" y1="406.35" x2="195.5" y2="406.35" stroke="#000" stroke-width="0.85"/>
<text x="191" y="408.73" font-size="6.7" font-weight="bold" text-anchor="end" fill="#333">1.5</text>
<line x1="192.1" y1="420.3" x2="195.5" y2="420.3" stroke="#000" stroke-width="0.85"/>
<text x="191" y="422.68" font-size="6.7" font-weight="bold" text-anchor="end" fill="#333">1.0</text>
<line x1="192.1" y1="434.25" x2="195.5" y2="434.25" stroke="#000" stroke-width="0.85"/>
<text x="191" y="436.63" font-size="6.7" font-weight="bold" text-anchor="end" fill="#333">0.5</text>
<line x1="192.1" y1="448.2" x2="195.5" y2="448.2" stroke="#000" stroke-width="0.85"/>
<text x="191" y="450.58" font-size="6.7" font-weight="bold" text-anchor="end" fill="#333">0</text>
<line x1="231.17" y1="448.4" x2="231.17" y2="451.6" stroke="#222" stroke-width="0.85"/>
<line x1="285.53" y1="448.4" x2="285.53" y2="451.6" stroke="#222" stroke-width="0.85"/>
<text x="231.17" y="458.5" font-size="6.5" font-weight="bold" text-anchor="middle" fill="#111" textLength="44.7" lengthAdjust="spacingAndGlyphs">Drug-naïve BD</text>
<text x="285.53" y="458.5" font-size="6.5" font-weight="bold" text-anchor="middle" fill="#111" textLength="42.6" lengthAdjust="spacingAndGlyphs">Medicated BD</text>
<text x="258.35" y="352.8" font-size="7.9" font-weight="bold" text-anchor="middle" fill="#000" textLength="53.7" lengthAdjust="spacingAndGlyphs">TST <tspan font-family="Liberation Serif" font-weight="normal" fill="#111">II</tspan> (nmol/L)</text>
<path d="M231.2 380 231.2 380.5 231.3 381.1 231.4 381.9 231.5 382.5 231.7 383 231.8 383.5 232 384 232.2 384.5 232.3 385 232.4 385.5 232.4 386 232.5 386.5 232.4 387 232.4 387.5 232.3 388 232.2 388.5 232 389 231.9 389.5 231.8 390 231.7 390.5 231.6 391.1 231.7 391.7 231.7 392.3 231.8 393 231.8 393.7 231.9 394.5 232 395.3 232.2 396 232.3 396.7 232.5 397.3 232.6 397.9 232.8 398.5 232.9 399.1 233 399.7 233.2 400.3 233.3 400.9 233.3 401.4 233.3 401.9 233.3 402.5 233.4 403 233.4 403.6 233.4 404.3 233.5 404.9 233.6 405.5 233.7 406 233.9 406.3 234.1 406.7 234.3 407 234.5 407.3 234.7 407.5 235 407.8 235.3 408.1 235.5 408.5 235.7 409 236 409.5 236.2 410 236.3 410.5 236.5 411 236.7 411.6 236.9 412.1 237.1 412.6 237.3 413.2 237.5 413.7 237.8 414.3 238 414.9 238.3 415.5 238.5 416.1 238.6 416.7 238.6 417.3 238.5 417.9 238.4 418.5 238.3 419.1 238.2 419.7 238.2 420.3 238.2 420.9 238.3 421.5 238.5 422 238.9 422.4 239.3 422.8 239.8 423.3 240.4 423.7 240.9 424.1 241.5 424.6 242.2 425 242.9 425.5 243.7 425.9 244.4 426.4 245.2 426.8 246 427.3 247 427.7 247.7 428.2 248.1 428.6 248.1 429 247.7 429.5 247 429.9 246.4 430.4 245.6 430.8 244.7 431.3 243.8 431.7 242.8 432.2 241.8 432.6 240.7 433.1 239.6 433.5 238.6 433.9 237.8 434.4 237 434.8 236.3 435.3 235.7 435.7 235 436.2 234.4 436.6 233.8 437.1 233.3 437.5 232.9 437.9 232.6 438.4 232.3 438.8 232.1 439.3 231.9 439.8 231.8 440.3 231.6 440.9 231.5 441.7 231.4 442.7 231.3 443.9 231.2 445 231.2 445.8 231.2 445.8 231.1 445 231 443.9 230.9 442.7 230.8 441.7 230.7 440.9 230.6 440.3 230.4 439.8 230.2 439.3 230 438.8 229.7 438.4 229.4 437.9 229 437.5 228.5 437.1 228 436.6 227.3 436.2 226.7 435.7 226 435.3 225.3 434.8 224.5 434.4 223.7 433.9 222.7 433.5 221.6 433.1 220.6 432.6 219.5 432.2 218.6 431.7 217.6 431.3 216.7 430.8 216 430.4 215.3 429.9 214.7 429.5 214.3 429 214.2 428.6 214.6 428.2 215.4 427.7 216.3 427.3 217.2 426.8 217.9 426.4 218.7 425.9 219.4 425.5 220.1 425 220.8 424.6 221.4 424.1 222 423.7 222.5 423.3 223 422.8 223.4 422.4 223.8 422 224 421.5 224.2 420.9 224.2 420.3 224.1 419.7 224 419.1 224 418.5 223.8 417.9 223.7 417.3 223.7 416.7 223.8 416.1 224 415.5 224.3 414.9 224.6 414.3 224.8 413.7 225 413.2 225.3 412.6 225.5 412.1 225.7 411.6 225.8 411 226 410.5 226.2 410 226.4 409.5 226.6 409 226.8 408.5 227.1 408.1 227.3 407.8 227.6 407.5 227.8 407.3 228.1 407 228.3 406.7 228.5 406.3 228.6 406 228.8 405.5 228.9 404.9 228.9 404.3 228.9 403.6 229 403 229 402.5 229 401.9 229 401.4 229.1 400.9 229.2 400.3 229.3 399.7 229.4 399.1 229.6 398.5 229.7 397.9 229.9 397.3 230 396.7 230.2 396 230.3 395.3 230.4 394.5 230.5 393.7 230.6 393 230.6 392.3 230.7 391.7 230.7 391.1 230.7 390.5 230.6 390 230.4 389.5 230.3 389 230.2 388.5 230.1 388 230 387.5 229.9 387 229.9 386.5 229.9 386 230 385.5 230.1 385 230.2 384.5 230.3 384 230.5 383.5 230.7 383 230.8 382.5 230.9 381.9 231 381.1 231.1 380.5 231.2 380Z" fill="#FF8080" stroke="#000" stroke-width="1.25" stroke-linejoin="round"/>
<line x1="224.4" y1="417.32" x2="237.93" y2="417.32" stroke="#DA6868" stroke-width="0.6" stroke-dasharray="3 0.8"/>
<line x1="214.96" y1="428.96" x2="247.37" y2="428.96" stroke="#DA6868" stroke-width="0.6" stroke-dasharray="3 0.8"/>
<line x1="219.58" y1="425.99" x2="242.75" y2="425.99" stroke="#000" stroke-width="0.95" stroke-dasharray="2.3 1.8"/>
<path d="M285.5 378.7 285.6 379.7 285.7 381 285.8 382.4 285.9 383.5 286 384.2 286.1 384.8 286.3 385.2 286.4 385.9 286.4 386.6 286.5 387.5 286.6 388.4 286.6 389.4 286.6 390.7 286.6 392.1 286.6 393.6 286.6 394.8 286.7 395.7 286.9 396.4 287.1 397 287.3 397.7 287.5 398.6 287.6 399.5 287.8 400.4 287.9 401.3 288.1 402.2 288.2 403.1 288.3 404 288.5 404.9 288.7 405.8 288.9 406.7 289.1 407.6 289.3 408.4 289.6 409.2 289.8 410 290.1 410.7 290.5 411.4 291 412 291.7 412.6 292.3 413.2 292.9 413.8 293.4 414.4 294 414.9 294.4 415.5 294.9 416.1 295.3 416.7 295.8 417.3 296.1 417.9 296.5 418.5 296.7 419.1 297 419.7 297.2 420.3 297.3 420.9 297.3 421.5 297.3 422.1 297.3 422.7 297.3 423.3 297.4 423.7 297.5 424.2 297.7 424.6 298 425 298.4 425.5 298.9 425.9 299.4 426.3 300 426.8 300.7 427.4 301.6 428.1 302.3 428.7 302.7 429.3 302.7 429.8 302.3 430.2 301.8 430.6 301.3 431 300.8 431.4 300.3 431.9 299.7 432.3 299.1 432.8 298.5 433.3 297.8 433.7 297.2 434.2 296.5 434.6 295.9 435 295.4 435.3 294.8 435.7 294.1 436 293.4 436.4 292.7 436.8 291.9 437.1 291.2 437.5 290.7 437.8 290.2 438.1 289.8 438.4 289.3 438.7 288.9 439 288.5 439.3 288.1 439.6 287.7 439.9 287.4 440.2 287.2 440.5 286.9 440.7 286.7 441 286.5 441.3 286.3 441.6 286.2 441.9 286 442.2 285.9 442.5 285.9 442.9 285.9 443.3 285.8 444 285.8 445.1 285.8 446.4 285.8 447.7 285.7 448.6 285.3 448.6 285.3 447.7 285.3 446.4 285.3 445.1 285.2 444 285.2 443.3 285.2 442.9 285.1 442.5 285 442.2 284.9 441.9 284.7 441.6 284.5 441.3 284.3 441 284.1 440.7 283.9 440.5 283.6 440.2 283.3 439.9 283 439.6 282.6 439.3 282.2 439 281.7 438.7 281.3 438.4 280.9 438.1 280.4 437.8 279.8 437.5 279.2 437.1 278.4 436.8 277.6 436.4 276.9 436 276.3 435.7 275.7 435.3 275.1 435 274.5 434.6 273.9 434.2 273.2 433.7 272.6 433.3 271.9 432.8 271.3 432.3 270.8 431.9 270.2 431.4 269.7 431 269.2 430.6 268.7 430.2 268.4 429.8 268.3 429.3 268.7 428.7 269.5 428.1 270.3 427.4 271.1 426.8 271.6 426.3 272.2 425.9 272.7 425.5 273.1 425 273.4 424.6 273.6 424.2 273.7 423.7 273.8 423.3 273.8 422.7 273.8 422.1 273.7 421.5 273.8 420.9 273.9 420.3 274.1 419.7 274.3 419.1 274.6 418.5 274.9 417.9 275.3 417.3 275.7 416.7 276.2 416.1 276.6 415.5 277.1 414.9 277.6 414.4 278.2 413.8 278.8 413.2 279.4 412.6 280 412 280.5 411.4 280.9 410.7 281.2 410 281.5 409.2 281.7 408.4 282 407.6 282.2 406.7 282.4 405.8 282.6 404.9 282.7 404 282.9 403.1 283 402.2 283.2 401.3 283.3 400.4 283.4 399.5 283.6 398.6 283.8 397.7 283.9 397 284.1 396.4 284.3 395.7 284.5 394.8 284.5 393.6 284.5 392.1 284.5 390.7 284.5 389.4 284.5 388.4 284.6 387.5 284.6 386.6 284.7 385.9 284.8 385.2 284.9 384.8 285.1 384.2 285.2 383.5 285.3 382.4 285.4 381 285.5 379.7 285.5 378.7Z" fill="#4040FF" stroke="#000" stroke-width="1.25" stroke-linejoin="round"/>
<line x1="276.42" y1="416.49" x2="294.65" y2="416.49" stroke="#3030CC" stroke-width="0.6" stroke-dasharray="3 0.8"/>
<line x1="269.43" y1="430.38" x2="301.64" y2="430.38" stroke="#3030CC" stroke-width="0.6" stroke-dasharray="3 0.8"/>
<line x1="273.97" y1="425.04" x2="297.1" y2="425.04" stroke="#000" stroke-width="0.95" stroke-dasharray="2.3 1.8"/>
<line x1="377.4" y1="364.05" x2="377.4" y2="448.4" stroke="#333" stroke-width="0.95"/>
<line x1="374" y1="448.4" x2="503.9" y2="448.4" stroke="#262626" stroke-width="1.1"/>
<line x1="374" y1="364.5" x2="377.4" y2="364.5" stroke="#000" stroke-width="0.85"/>
<text x="372.9" y="366.91" font-size="6.8" font-weight="bold" text-anchor="end" fill="#000">2.0</text>
<line x1="374" y1="381.24" x2="377.4" y2="381.24" stroke="#000" stroke-width="0.85"/>
<text x="372.9" y="383.65" font-size="6.8" font-weight="bold" text-anchor="end" fill="#000">1.5</text>
<line x1="374" y1="397.98" x2="377.4" y2="397.98" stroke="#000" stroke-width="0.85"/>
<text x="372.9" y="400.39" font-size="6.8" font-weight="bold" text-anchor="end" fill="#000">1.0</text>
<line x1="374" y1="414.72" x2="377.4" y2="414.72" stroke="#000" stroke-width="0.85"/>
<text x="372.9" y="417.13" font-size="6.8" font-weight="bold" text-anchor="end" fill="#000">0.5</text>
<line x1="374" y1="431.46" x2="377.4" y2="431.46" stroke="#000" stroke-width="0.85"/>
<text x="372.9" y="433.87" font-size="6.8" font-weight="bold" text-anchor="end" fill="#000">0</text>
<line x1="374" y1="448.2" x2="377.4" y2="448.2" stroke="#000" stroke-width="0.85"/>
<text x="372.9" y="450.61" font-size="6.8" font-weight="bold" text-anchor="end" fill="#000">-0.5</text>
<line x1="413.46" y1="448.4" x2="413.46" y2="451.6" stroke="#222" stroke-width="0.85"/>
<line x1="467.66" y1="448.4" x2="467.66" y2="451.6" stroke="#222" stroke-width="0.85"/>
<text x="413.46" y="458.5" font-size="6.5" font-weight="bold" text-anchor="middle" fill="#111" textLength="44.7" lengthAdjust="spacingAndGlyphs">Drug-naïve BD</text>
<text x="467.66" y="458.5" font-size="6.5" font-weight="bold" text-anchor="middle" fill="#111" textLength="42.6" lengthAdjust="spacingAndGlyphs">Medicated BD</text>
<text x="440.55" y="352.8" font-size="7.9" font-weight="bold" text-anchor="middle" fill="#000" textLength="45.5" lengthAdjust="spacingAndGlyphs">PRGE (µg/L)</text>
<path d="M413.5 369.3 413.5 370 413.5 371.2 413.6 372.3 413.7 373.3 413.8 374 414 374.5 414.3 374.9 414.5 375.4 414.8 376 415.1 376.5 415.3 377 415.6 377.5 415.8 378.1 416.1 378.6 416.3 379.1 416.4 379.7 416.5 380.2 416.6 380.7 416.7 381.3 416.6 381.8 416.6 382.3 416.4 382.8 416.2 383.3 416.1 383.9 416 384.5 415.9 385.2 415.8 385.9 415.8 386.6 415.8 387.2 415.7 387.9 415.8 388.6 415.8 389.2 415.9 389.9 416 390.6 416.1 391.3 416.2 391.9 416.4 392.4 416.6 392.7 416.8 393.1 417.1 393.5 417.4 393.8 417.7 394.2 418.1 394.5 418.6 394.8 419 395.2 419.4 395.5 419.9 395.8 420.4 396.1 420.8 396.5 421.4 396.9 421.9 397.4 422.4 397.8 422.9 398.2 423.3 398.7 423.8 399.1 424.3 399.5 424.7 399.9 425.2 400.3 425.7 400.7 426.1 401.1 426.5 401.5 426.9 401.9 427.3 402.4 427.7 402.8 428.1 403.2 428.4 403.7 428.8 404.1 429.2 404.6 429.5 405.1 429.9 405.6 430.2 406.2 430.4 406.7 430.6 407.3 430.8 407.8 430.9 408.4 431 409 431 409.6 430.9 410.2 430.8 410.9 430.8 411.5 430.6 412.1 430.4 412.6 430.3 413.1 430.2 413.5 430.3 413.8 430.4 414 430.6 414.2 430.6 414.5 430.6 414.8 430.5 415.2 430.2 415.6 430 416 429.6 416.3 429.1 416.7 428.6 417.1 428 417.5 427.4 417.9 426.8 418.3 426.1 418.7 425.3 419.1 424.4 419.6 423.4 420.2 422.3 420.7 421.4 421.3 420.7 421.8 420.2 422.4 419.7 423 419.2 423.6 418.6 424.2 417.9 424.7 417.2 425.3 416.6 425.8 416.1 426.4 415.5 427 415 427.5 414.6 428.1 414.4 428.5 414.2 428.9 414.1 429.4 414 430 413.8 430.9 413.7 431.9 413.6 433 413.5 433.7 413.5 433.7 413.4 433 413.2 431.9 413.1 430.9 412.9 430 412.8 429.4 412.7 428.9 412.6 428.5 412.3 428.1 411.9 427.5 411.4 427 410.8 426.4 410.3 425.8 409.7 425.3 409 424.7 408.4 424.2 407.7 423.6 407.2 423 406.7 422.4 406.2 421.8 405.5 421.3 404.6 420.7 403.6 420.2 402.5 419.6 401.6 419.1 400.8 418.7 400.1 418.3 399.5 417.9 398.9 417.5 398.4 417.1 397.8 416.7 397.3 416.3 397 416 396.7 415.6 396.5 415.2 396.3 414.8 396.3 414.5 396.3 414.2 396.5 414 396.6 413.8 396.7 413.5 396.6 413.1 396.5 412.6 396.3 412.1 396.2 411.5 396.1 410.9 396 410.2 395.9 409.6 396 409 396 408.4 396.1 407.8 396.3 407.3 396.5 406.7 396.7 406.2 397.1 405.6 397.4 405.1 397.8 404.6 398.1 404.1 398.5 403.7 398.9 403.2 399.2 402.8 399.6 402.4 400 401.9 400.4 401.5 400.8 401.1 401.3 400.7 401.7 400.3 402.2 399.9 402.6 399.5 403.1 399.1 403.6 398.7 404.1 398.2 404.5 397.8 405 397.4 405.6 396.9 406.1 396.5 406.6 396.1 407 395.8 407.5 395.5 407.9 395.2 408.4 394.8 408.8 394.5 409.2 394.2 409.5 393.8 409.9 393.5 410.1 393.1 410.3 392.7 410.5 392.4 410.7 391.9 410.8 391.3 411 390.6 411.1 389.9 411.1 389.2 411.2 388.6 411.2 387.9 411.2 387.2 411.1 386.6 411.1 385.9 411 385.2 410.9 384.5 410.8 383.9 410.7 383.3 410.5 382.8 410.4 382.3 410.3 381.8 410.3 381.3 410.3 380.7 410.4 380.2 410.5 379.7 410.7 379.1 410.9 378.6 411.1 378.1 411.3 377.5 411.6 377 411.9 376.5 412.1 376 412.4 375.4 412.6 374.9 412.9 374.5 413.1 374 413.2 373.3 413.3 372.3 413.4 371.2 413.4 370 413.5 369.3Z" fill="#FF8080" stroke="#000" stroke-width="1.25" stroke-linejoin="round"/>
<line x1="400.33" y1="402.16" x2="426.59" y2="402.16" stroke="#DA6868" stroke-width="0.6" stroke-dasharray="3 0.8"/>
<line x1="398.05" y1="416.28" x2="428.87" y2="416.28" stroke="#DA6868" stroke-width="0.6" stroke-dasharray="3 0.8"/>
<line x1="396.85" y1="409.38" x2="430.07" y2="409.38" stroke="#000" stroke-width="0.95" stroke-dasharray="2.3 1.8"/>
<path d="M467.7 380.8 467.7 381.6 467.7 382.8 467.8 384 468 385 468.2 385.5 468.4 385.9 468.7 386.2 469 386.5 469.3 386.8 469.6 387.2 469.9 387.6 470.2 388 470.4 388.4 470.6 388.9 470.8 389.5 471 390 471.1 390.5 471.2 391 471.3 391.5 471.5 392 471.6 392.5 471.7 393 471.8 393.5 472 394 472.2 394.5 472.4 395 472.7 395.5 473 396 473.2 396.5 473.5 397 473.9 397.5 474.1 398 474.4 398.5 474.7 399 474.9 399.4 475.1 399.9 475.4 400.4 475.5 400.9 475.7 401.4 475.9 401.9 476.2 402.4 476.4 402.9 476.7 403.4 476.9 403.9 477.1 404.4 477.3 404.9 477.5 405.4 477.7 405.9 478.2 406.4 478.7 406.9 479.2 407.4 479.7 407.9 480.3 408.4 480.8 408.9 481.4 409.4 481.9 409.9 482.5 410.4 483.1 410.9 483.7 411.4 484.1 411.9 484.5 412.4 484.8 413 485 413.5 485.1 413.9 485 414.3 484.8 414.7 484.5 415.1 484.1 415.4 483.7 415.8 483.2 416.1 482.6 416.5 481.9 416.9 481.2 417.4 480.5 417.9 479.7 418.4 478.9 418.9 478.3 419.4 477.6 419.9 477 420.4 476.4 420.9 475.8 421.4 475.2 421.9 474.7 422.4 474.1 422.9 473.7 423.3 473.3 423.7 472.9 424 472.5 424.4 472 424.8 471.5 425.1 471 425.5 470.5 425.9 469.9 426.3 469.4 426.7 468.9 427.1 468.5 427.4 468.2 427.6 468 427.8 467.9 428 467.8 428.4 467.7 429.2 467.7 430.2 467.7 431.2 467.7 431.9 467.7 431.9 467.7 431.2 467.7 430.2 467.6 429.2 467.6 428.4 467.5 428 467.3 427.8 467.1 427.6 466.9 427.4 466.5 427.1 465.9 426.7 465.4 426.3 464.9 425.9 464.4 425.5 463.8 425.1 463.3 424.8 462.9 424.4 462.4 424 462 423.7 461.6 423.3 461.2 422.9 460.6 422.4 460.1 421.9 459.5 421.4 458.9 420.9 458.3 420.4 457.7 419.9 457 419.4 456.4 418.9 455.7 418.4 454.9 417.9 454.1 417.4 453.4 416.9 452.8 416.5 452.2 416.1 451.6 415.8 451.2 415.4 450.8 415.1 450.5 414.7 450.3 414.3 450.2 413.9 450.3 413.5 450.5 413 450.8 412.4 451.2 411.9 451.7 411.4 452.2 410.9 452.8 410.4 453.4 409.9 453.9 409.4 454.5 408.9 455 408.4 455.6 407.9 456.1 407.4 456.7 406.9 457.2 406.4 457.6 405.9 457.9 405.4 458 404.9 458.2 404.4 458.4 403.9 458.6 403.4 458.9 402.9 459.1 402.4 459.4 401.9 459.6 401.4 459.8 400.9 460 400.4 460.2 399.9 460.4 399.4 460.6 399 460.9 398.5 461.2 398 461.5 397.5 461.8 397 462.1 396.5 462.4 396 462.6 395.5 462.9 395 463.2 394.5 463.4 394 463.5 393.5 463.6 393 463.8 392.5 463.9 392 464 391.5 464.1 391 464.2 390.5 464.4 390 464.5 389.5 464.7 388.9 464.9 388.4 465.2 388 465.4 387.6 465.8 387.2 466.1 386.8 466.4 386.5 466.6 386.2 466.9 385.9 467.2 385.5 467.4 385 467.5 384 467.6 382.8 467.6 381.6 467.7 380.8Z" fill="#4040FF" stroke="#000" stroke-width="1.25" stroke-linejoin="round"/>
<line x1="458.89" y1="404.44" x2="476.43" y2="404.44" stroke="#3030CC" stroke-width="0.6" stroke-dasharray="3 0.8"/>
<line x1="453.46" y1="416.42" x2="481.87" y2="416.42" stroke="#3030CC" stroke-width="0.6" stroke-dasharray="3 0.8"/>
<line x1="452.09" y1="412.12" x2="483.23" y2="412.12" stroke="#000" stroke-width="0.95" stroke-dasharray="2.3 1.8"/>
<line x1="557.5" y1="364.05" x2="557.5" y2="448.4" stroke="#333" stroke-width="0.95"/>
<line x1="554.1" y1="448.4" x2="685.5" y2="448.4" stroke="#262626" stroke-width="1.1"/>
<line x1="554.1" y1="364.5" x2="557.5" y2="364.5" stroke="#000" stroke-width="0.85"/>
<text x="553" y="366.88" font-size="6.7" font-weight="bold" text-anchor="end" fill="#000">20</text>
<line x1="554.1" y1="381.24" x2="557.5" y2="381.24" stroke="#000" stroke-width="0.85"/>
<text x="553" y="383.62" font-size="6.7" font-weight="bold" text-anchor="end" fill="#000">15</text>
<line x1="554.1" y1="397.98" x2="557.5" y2="397.98" stroke="#000" stroke-width="0.85"/>
<text x="553" y="400.36" font-size="6.7" font-weight="bold" text-anchor="end" fill="#000">10</text>
<line x1="554.1" y1="414.72" x2="557.5" y2="414.72" stroke="#000" stroke-width="0.85"/>
<text x="553" y="417.1" font-size="6.7" font-weight="bold" text-anchor="end" fill="#000">5</text>
<line x1="554.1" y1="431.46" x2="557.5" y2="431.46" stroke="#000" stroke-width="0.85"/>
<text x="553" y="433.84" font-size="6.7" font-weight="bold" text-anchor="end" fill="#000">0</text>
<line x1="554.1" y1="448.2" x2="557.5" y2="448.2" stroke="#000" stroke-width="0.85"/>
<text x="553" y="450.58" font-size="6.7" font-weight="bold" text-anchor="end" fill="#000">-5</text>
<line x1="593.59" y1="448.4" x2="593.59" y2="451.6" stroke="#222" stroke-width="0.85"/>
<line x1="647.97" y1="448.4" x2="647.97" y2="451.6" stroke="#222" stroke-width="0.85"/>
<text x="593.59" y="458.5" font-size="6.5" font-weight="bold" text-anchor="middle" fill="#111" textLength="44.7" lengthAdjust="spacingAndGlyphs">Drug-naïve BD</text>
<text x="647.97" y="458.5" font-size="6.5" font-weight="bold" text-anchor="middle" fill="#111" textLength="42.6" lengthAdjust="spacingAndGlyphs">Medicated BD</text>
<text x="620.6" y="352.8" font-size="7.9" font-weight="bold" text-anchor="middle" fill="#000" textLength="48.8" lengthAdjust="spacingAndGlyphs">AMH (ng/mL)</text>
<line x1="594" y1="362.55" x2="647.4" y2="362.55" stroke="#000" stroke-width="1.1"/>
<path d="M620.5 355.05L620.5 358.15M621.84 355.83L619.16 357.38M621.84 357.38L619.16 355.83" stroke="#000" stroke-width="1.05" stroke-linecap="round"/>
<path d="M593.6 401 593.6 401.5 593.7 402.1 593.8 402.8 593.9 403.5 594 404 594.2 404.5 594.3 404.9 594.5 405.4 594.7 405.8 594.9 406.2 595.2 406.6 595.5 406.9 595.8 407.3 596.2 407.6 596.6 407.9 597 408.2 597.5 408.5 598.1 408.8 598.7 409.1 599.2 409.4 599.6 409.7 600 410 600.3 410.4 600.5 410.7 600.5 411 600.3 411.3 600.1 411.6 599.8 411.9 599.4 412.3 598.9 412.7 598.4 413.1 598 413.5 597.6 413.8 597.3 414 597.1 414.2 597 414.4 597 414.6 597.2 414.9 597.4 415.1 598 415.3 598.8 415.6 599.9 415.9 601.2 416.3 602.3 416.6 603.4 416.9 604.6 417.2 605.6 417.5 606.7 417.8 607.7 418.1 608.8 418.4 609.7 418.7 610.4 419 610.9 419.1 611.3 419.3 611.4 419.4 611.4 419.6 611.2 419.8 610.8 420 610.2 420.2 609.5 420.5 608.6 420.7 607.6 421 606.5 421.3 605.4 421.6 604.5 421.9 603.5 422.2 602.5 422.5 601.7 422.8 601 423.1 600.3 423.5 599.7 423.8 599.2 424.1 598.9 424.4 598.6 424.7 598.4 425 598.3 425.3 598.2 425.6 598.1 426 598.1 426.3 598 426.6 597.8 426.9 597.6 427.2 597.3 427.5 597 427.8 596.7 428.1 596.3 428.5 595.8 428.8 595.5 429.1 595.1 429.3 594.8 429.5 594.5 429.8 594.2 430.2 594 430.9 593.8 431.9 593.7 432.8 593.6 433.4 593.6 433.4 593.5 432.8 593.4 431.9 593.2 430.9 593 430.2 592.7 429.8 592.4 429.5 592.1 429.3 591.7 429.1 591.3 428.8 590.9 428.5 590.5 428.1 590.2 427.8 589.9 427.5 589.6 427.2 589.4 426.9 589.2 426.6 589.1 426.3 589.1 426 589 425.6 588.9 425.3 588.8 425 588.6 424.7 588.3 424.4 588 424.1 587.5 423.8 586.9 423.5 586.2 423.1 585.5 422.8 584.6 422.5 583.7 422.2 582.7 421.9 581.7 421.6 580.7 421.3 579.6 421 578.5 420.7 577.7 420.5 577 420.2 576.4 420 576 419.8 575.8 419.6 575.8 419.4 575.9 419.3 576.2 419.1 576.7 419 577.5 418.7 578.4 418.4 579.4 418.1 580.5 417.8 581.5 417.5 582.6 417.2 583.7 416.9 584.9 416.6 586 416.3 587.3 415.9 588.4 415.6 589.2 415.3 589.7 415.1 590 414.9 590.1 414.6 590.2 414.4 590.1 414.2 589.9 414 589.6 413.8 589.2 413.5 588.8 413.1 588.3 412.7 587.8 412.3 587.4 411.9 587.1 411.6 586.8 411.3 586.7 411 586.7 410.7 586.9 410.4 587.2 410 587.6 409.7 588 409.4 588.5 409.1 589 408.8 589.6 408.5 590.2 408.2 590.6 407.9 591 407.6 591.4 407.3 591.7 406.9 592 406.6 592.2 406.2 592.5 405.8 592.7 405.4 592.8 404.9 593 404.5 593.2 404 593.3 403.5 593.4 402.8 593.5 402.1 593.5 401.5 593.6 401Z" fill="#FF8080" stroke="#000" stroke-width="1.25" stroke-linejoin="round"/>
<line x1="589.92" y1="415.34" x2="597.26" y2="415.34" stroke="#DA6868" stroke-width="0.6" stroke-dasharray="3 0.8"/>
<line x1="585.34" y1="422.52" x2="601.85" y2="422.52" stroke="#DA6868" stroke-width="0.6" stroke-dasharray="3 0.8"/>
<line x1="576.71" y1="419.53" x2="610.48" y2="419.53" stroke="#000" stroke-width="0.95" stroke-dasharray="2.3 1.8"/>
<path d="M648 365 648 365.6 648.1 366.6 648.2 367.6 648.3 368.5 648.5 369.2 648.8 369.8 649 370.3 649 370.9 649 371.5 648.8 372.1 648.5 372.6 648.3 373.3 648.2 373.6 648.1 373.6 648 374.3 648 376.2 648 380.5 648 386.5 648 392.3 648 396.4 648 398 648 398.1 648 397.7 648.1 397.5 648.2 397.8 648.3 398.1 648.4 398.4 648.6 398.7 648.8 399 649.1 399.4 649.4 399.7 649.7 400 650 400.3 650.2 400.6 650.5 400.9 650.8 401.2 651 401.5 651.2 401.9 651.3 402.2 651.5 402.5 651.6 402.8 651.8 403.1 651.9 403.4 652.1 403.7 652.3 404.1 652.5 404.6 652.7 405.1 653 405.6 653.2 406.1 653.4 406.5 653.7 407 654.2 407.5 654.8 408.1 655.5 408.7 656.3 409.4 657 410 657.4 410.6 657.8 411.3 658.2 411.9 658.6 412.5 659 413.1 659.5 413.8 659.9 414.4 660.5 415 661 415.5 661.7 415.9 662.3 416.3 663 416.8 663.8 417.3 664.7 417.9 665.5 418.5 665.8 419 665.5 419.4 664.9 419.8 664 420.2 663 420.6 661.8 421.1 660.4 421.5 659.1 422 658 422.5 657.3 423 656.9 423.4 656.5 423.8 656.1 424.3 655.5 424.8 654.9 425.2 654.3 425.7 653.6 426.2 652.8 426.7 652 427.2 651.2 427.7 650.5 428.1 649.9 428.4 649.4 428.7 648.9 429 648.6 429.3 648.4 429.6 648.3 429.8 648.3 430.1 648.2 430.5 648.1 431.1 648.1 431.9 648 432.7 648 433.2 648 433.2 647.9 432.7 647.9 431.9 647.8 431.1 647.7 430.5 647.7 430.1 647.6 429.8 647.6 429.6 647.4 429.3 647 429 646.6 428.7 646.1 428.4 645.5 428.1 644.8 427.7 644 427.2 643.1 426.7 642.4 426.2 641.7 425.7 641 425.2 640.4 424.8 639.9 424.3 639.4 423.8 639.1 423.4 638.7 423 638 422.5 636.9 422 635.5 421.5 634.1 421.1 633 420.6 632 420.2 631.1 419.8 630.4 419.4 630.2 419 630.5 418.5 631.2 417.9 632.2 417.3 633 416.8 633.6 416.3 634.3 415.9 634.9 415.5 635.5 415 636 414.4 636.5 413.8 636.9 413.1 637.4 412.5 637.8 411.9 638.1 411.3 638.5 410.6 639 410 639.6 409.4 640.4 408.7 641.2 408.1 641.8 407.5 642.2 407 642.5 406.5 642.7 406.1 643 405.6 643.2 405.1 643.5 404.6 643.7 404.1 643.9 403.7 644 403.4 644.2 403.1 644.3 402.8 644.5 402.5 644.6 402.2 644.8 401.9 645 401.5 645.2 401.2 645.4 400.9 645.7 400.6 646 400.3 646.3 400 646.6 399.7 646.9 399.4 647.1 399 647.4 398.7 647.5 398.4 647.7 398.1 647.8 397.8 647.9 397.5 647.9 397.7 648 398.1 648 398 648 396.4 648 392.3 648 386.5 648 380.5 648 376.2 647.9 374.3 647.8 373.6 647.7 373.6 647.6 373.3 647.4 372.6 647.2 372.1 647 371.5 646.9 370.9 647 370.3 647.2 369.8 647.4 369.2 647.6 368.5 647.7 367.6 647.8 366.6 647.9 365.6 648 365Z" fill="#4040FF" stroke="#000" stroke-width="1.25" stroke-linejoin="round"/>
<line x1="639.2" y1="410.66" x2="656.75" y2="410.66" stroke="#3030CC" stroke-width="0.6" stroke-dasharray="3 0.8"/>
<line x1="633.67" y1="420.4" x2="662.27" y2="420.4" stroke="#3030CC" stroke-width="0.6" stroke-dasharray="3 0.8"/>
<line x1="633.06" y1="417.19" x2="662.89" y2="417.19" stroke="#000" stroke-width="0.95" stroke-dasharray="2.3 1.8"/>
<line x1="13.8" y1="544.25" x2="13.8" y2="629.2" stroke="#333" stroke-width="0.95"/>
<line x1="10.4" y1="629.2" x2="140.8" y2="629.2" stroke="#262626" stroke-width="1.1"/>
<line x1="10.4" y1="544.7" x2="13.8" y2="544.7" stroke="#000" stroke-width="0.85"/>
<text x="9.3" y="547.08" font-size="6.7" font-weight="bold" text-anchor="end" fill="#000">60</text>
<line x1="10.4" y1="556.77" x2="13.8" y2="556.77" stroke="#000" stroke-width="0.85"/>
<text x="9.3" y="559.15" font-size="6.7" font-weight="bold" text-anchor="end" fill="#000">50</text>
<line x1="10.4" y1="568.84" x2="13.8" y2="568.84" stroke="#000" stroke-width="0.85"/>
<text x="9.3" y="571.22" font-size="6.7" font-weight="bold" text-anchor="end" fill="#000">40</text>
<line x1="10.4" y1="580.91" x2="13.8" y2="580.91" stroke="#000" stroke-width="0.85"/>
<text x="9.3" y="583.29" font-size="6.7" font-weight="bold" text-anchor="end" fill="#000">30</text>
<line x1="10.4" y1="592.99" x2="13.8" y2="592.99" stroke="#000" stroke-width="0.85"/>
<text x="9.3" y="595.36" font-size="6.7" font-weight="bold" text-anchor="end" fill="#000">20</text>
<line x1="10.4" y1="605.06" x2="13.8" y2="605.06" stroke="#000" stroke-width="0.85"/>
<text x="9.3" y="607.44" font-size="6.7" font-weight="bold" text-anchor="end" fill="#000">10</text>
<line x1="10.4" y1="617.13" x2="13.8" y2="617.13" stroke="#000" stroke-width="0.85"/>
<text x="9.3" y="619.51" font-size="6.7" font-weight="bold" text-anchor="end" fill="#000">0</text>
<line x1="10.4" y1="629.2" x2="13.8" y2="629.2" stroke="#000" stroke-width="0.85"/>
<text x="9.3" y="631.58" font-size="6.7" font-weight="bold" text-anchor="end" fill="#000">-10</text>
<line x1="49.93" y1="629.2" x2="49.93" y2="632.4" stroke="#222" stroke-width="0.85"/>
<line x1="104" y1="629.2" x2="104" y2="632.4" stroke="#222" stroke-width="0.85"/>
<text x="49.93" y="639.2" font-size="6.5" font-weight="bold" text-anchor="middle" fill="#111" textLength="44.7" lengthAdjust="spacingAndGlyphs">Drug-naïve BD</text>
<text x="104" y="639.2" font-size="6.5" font-weight="bold" text-anchor="middle" fill="#111" textLength="42.6" lengthAdjust="spacingAndGlyphs">Medicated BD</text>
<text x="77.25" y="533.7" font-size="7.9" font-weight="bold" text-anchor="middle" fill="#000" textLength="54.7" lengthAdjust="spacingAndGlyphs">Insulin (mIU/L)</text>
<line x1="50.4" y1="549.55" x2="103.7" y2="549.55" stroke="#000" stroke-width="1.1"/>
<path d="M77 541.95L77 545.05M78.34 542.73L75.66 544.27M78.34 544.27L75.66 542.73" stroke="#000" stroke-width="1.05" stroke-linecap="round"/>
<path d="M49.9 578.1 50 578.6 50 579.4 50.1 580.2 50.3 580.9 50.4 581.3 50.7 581.6 50.9 581.8 51.1 582.1 51.2 582.6 51.4 583.1 51.5 583.6 51.6 584.1 51.5 584.6 51.4 585.2 51.2 585.7 51.1 586.2 50.9 586.7 50.6 587.2 50.4 587.7 50.3 588.2 50.2 588.7 50.2 589.2 50.2 589.8 50.3 590.2 50.4 590.6 50.6 591 50.8 591.4 51.1 591.8 51.4 592.2 51.7 592.6 52 593.1 52.2 593.5 52.3 593.9 52.3 594.2 52.3 594.6 52.2 594.9 52.1 595.2 52.1 595.5 52 595.8 51.9 596.1 51.8 596.3 51.7 596.5 51.6 596.8 51.7 597 51.9 597.1 52.3 597.3 52.7 597.4 53.1 597.6 53.6 597.9 54.1 598.2 54.6 598.5 55.2 598.8 55.9 599.2 56.6 599.5 57.4 599.9 58.1 600.2 58.8 600.6 59.6 600.9 60.3 601.3 61 601.7 61.9 602 62.8 602.4 63.7 602.8 64.5 603.1 65.3 603.5 66.1 603.9 66.7 604.3 67.2 604.6 67.5 604.8 67.6 605 67.6 605.2 67.5 605.4 67.2 605.6 66.8 605.9 66.3 606.2 65.9 606.4 65.5 606.5 65.1 606.6 64.7 606.7 64.5 606.9 64.6 607.2 64.9 607.7 65.1 608.2 65.1 608.7 64.8 609.1 64.3 609.5 63.7 609.9 62.8 610.4 61.5 611.1 60 611.9 58.4 612.7 56.9 613.4 55.5 614.1 54.2 614.6 52.9 615.2 52 615.7 51.3 616.2 51 616.6 50.7 617 50.5 617.4 50.3 618 50.1 618.6 50 619.1 49.9 619.5 49.9 619.5 49.9 619.1 49.7 618.6 49.6 618 49.4 617.4 49.1 617 48.9 616.6 48.5 616.2 47.9 615.7 46.9 615.2 45.7 614.6 44.3 614.1 43 613.4 41.5 612.7 39.9 611.9 38.3 611.1 37.1 610.4 36.2 609.9 35.5 609.5 35.1 609.1 34.8 608.7 34.7 608.2 35 607.7 35.3 607.2 35.3 606.9 35.1 606.7 34.8 606.6 34.4 606.5 33.9 606.4 33.5 606.2 33.1 605.9 32.7 605.6 32.4 605.4 32.3 605.2 32.3 605 32.4 604.8 32.7 604.6 33.1 604.3 33.8 603.9 34.5 603.5 35.3 603.1 36.2 602.8 37.1 602.4 38 602 38.8 601.7 39.6 601.3 40.3 600.9 41 600.6 41.7 600.2 42.5 599.9 43.2 599.5 44 599.2 44.7 598.8 45.3 598.5 45.8 598.2 46.3 597.9 46.8 597.6 47.2 597.4 47.6 597.3 47.9 597.1 48.1 597 48.2 596.8 48.2 596.5 48.1 596.3 48 596.1 47.9 595.8 47.8 595.5 47.7 595.2 47.7 594.9 47.6 594.6 47.6 594.2 47.6 593.9 47.7 593.5 47.9 593.1 48.2 592.6 48.5 592.2 48.8 591.8 49 591.4 49.3 591 49.5 590.6 49.6 590.2 49.7 589.8 49.7 589.2 49.7 588.7 49.6 588.2 49.5 587.7 49.2 587.2 49 586.7 48.8 586.2 48.6 585.7 48.5 585.2 48.4 584.6 48.3 584.1 48.4 583.6 48.5 583.1 48.6 582.6 48.8 582.1 49 581.8 49.2 581.6 49.4 581.3 49.6 580.9 49.7 580.2 49.8 579.4 49.9 578.6 49.9 578.1Z" fill="#FF8080" stroke="#000" stroke-width="1.25" stroke-linejoin="round"/>
<line x1="39.52" y1="601.59" x2="60.35" y2="601.59" stroke="#DA6868" stroke-width="0.6" stroke-dasharray="3 0.8"/>
<line x1="35.76" y1="609.29" x2="64.1" y2="609.29" stroke="#DA6868" stroke-width="0.6" stroke-dasharray="3 0.8"/>
<line x1="33.31" y1="605.4" x2="66.56" y2="605.4" stroke="#000" stroke-width="0.95" stroke-dasharray="2.3 1.8"/>
<path d="M104 553.5 104.1 554.1 104.1 555 104.3 556 104.4 556.9 104.5 557.6 104.7 558.2 104.9 558.8 105 559.4 104.9 560 104.8 560.6 104.6 561.2 104.5 561.9 104.4 562.6 104.3 563.4 104.2 564.2 104.2 565 104.4 565.7 104.6 566.2 104.8 566.8 105 567.5 105.2 568.2 105.5 569 105.8 569.8 105.9 570.6 105.8 571.4 105.7 572.2 105.5 573 105.2 573.8 105 574.4 104.8 575 104.5 575.6 104.4 576.2 104.3 576.9 104.2 577.5 104.2 578.1 104.2 578.8 104.4 579.3 104.6 579.9 104.9 580.5 105 581 105 581.5 104.8 582 104.6 582.5 104.5 583.1 104.4 583.9 104.3 584.7 104.3 585.6 104.2 586.2 104.3 586.7 104.3 587 104.4 587.2 104.6 587.5 105 587.9 105.5 588.4 106 588.9 106.5 589.4 106.9 589.8 107.2 590.3 107.5 590.8 107.8 591.2 108 591.7 108.1 592.1 108.2 592.6 108.4 593.1 108.5 593.7 108.6 594.4 108.8 595 109 595.6 109.3 596.1 109.7 596.6 110.1 597 110.5 597.5 111 598 111.5 598.4 112 598.9 112.5 599.4 113 599.8 113.6 600.3 114.1 600.8 114.6 601.2 115.1 601.7 115.6 602.2 116 602.7 116.5 603.1 117 603.6 117.4 604.1 117.9 604.5 118.4 605 118.9 605.5 119.4 606 119.8 606.4 120.2 606.9 120.7 607.3 121.1 607.7 121.4 608.1 121.5 608.5 121.4 608.9 121.1 609.2 120.7 609.6 120.2 610 119.7 610.4 119.2 610.9 118.5 611.4 117.8 611.9 116.9 612.4 115.9 612.9 114.9 613.3 114 613.8 113.2 614.1 112.4 614.4 111.7 614.7 110.9 615 109.9 615.3 108.9 615.6 108 615.9 107.1 616.2 106.5 616.5 105.9 616.8 105.4 617.1 105 617.5 104.6 618.1 104.4 618.8 104.2 619.5 104 620 104 620 103.8 619.5 103.6 618.8 103.4 618.1 103 617.5 102.6 617.1 102.1 616.8 101.5 616.5 100.9 616.2 100 615.9 99.1 615.6 98.1 615.3 97.1 615 96.3 614.7 95.6 614.4 94.8 614.1 94 613.8 93.1 613.3 92.1 612.9 91.1 612.4 90.2 611.9 89.5 611.4 88.8 610.9 88.3 610.4 87.8 610 87.3 609.6 86.9 609.2 86.6 608.9 86.5 608.5 86.6 608.1 86.9 607.7 87.3 607.3 87.8 606.9 88.2 606.4 88.6 606 89.1 605.5 89.6 605 90.1 604.5 90.6 604.1 91 603.6 91.5 603.1 92 602.7 92.4 602.2 92.9 601.7 93.4 601.2 93.9 600.8 94.4 600.3 95 599.8 95.5 599.4 96 598.9 96.5 598.4 97 598 97.5 597.5 97.9 597 98.3 596.6 98.7 596.1 99 595.6 99.2 595 99.4 594.4 99.5 593.7 99.6 593.1 99.8 592.6 99.9 592.1 100 591.7 100.2 591.2 100.5 590.8 100.8 590.3 101.1 589.8 101.5 589.4 102 588.9 102.5 588.4 103 587.9 103.4 587.5 103.6 587.2 103.7 587 103.7 586.7 103.8 586.2 103.7 585.6 103.7 584.7 103.6 583.9 103.5 583.1 103.4 582.5 103.2 582 103 581.5 103 581 103.1 580.5 103.4 579.9 103.6 579.3 103.8 578.8 103.8 578.1 103.8 577.5 103.7 576.9 103.6 576.2 103.5 575.6 103.2 575 103 574.4 102.8 573.8 102.5 573 102.3 572.2 102.2 571.4 102.1 570.6 102.2 569.8 102.5 569 102.8 568.2 103 567.5 103.2 566.8 103.4 566.2 103.6 565.7 103.8 565 103.8 564.2 103.7 563.4 103.6 562.6 103.5 561.9 103.4 561.2 103.2 560.6 103.1 560 103 559.4 103.1 558.8 103.3 558.2 103.5 557.6 103.6 556.9 103.7 556 103.9 555 103.9 554.1 104 553.5Z" fill="#4040FF" stroke="#000" stroke-width="1.25" stroke-linejoin="round"/>
<line x1="96.2" y1="599.38" x2="111.8" y2="599.38" stroke="#3030CC" stroke-width="0.6" stroke-dasharray="3 0.8"/>
<line x1="87.59" y1="609.38" x2="120.41" y2="609.38" stroke="#3030CC" stroke-width="0.6" stroke-dasharray="3 0.8"/>
<line x1="90.53" y1="605" x2="117.47" y2="605" stroke="#000" stroke-width="0.95" stroke-dasharray="2.3 1.8"/></svg></body></html>
